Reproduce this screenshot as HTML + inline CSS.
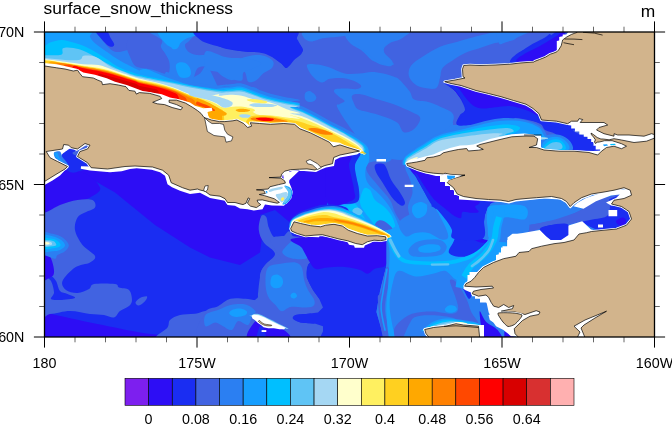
<!DOCTYPE html>
<html><head><meta charset="utf-8"><title>surface_snow_thickness</title>
<style>
html,body{margin:0;padding:0;background:#fff;}
body{width:672px;height:425px;overflow:hidden;}
svg{display:block;will-change:transform;}
text{font-family:"Liberation Sans",sans-serif;fill:#000;}
</style></head><body>
<svg width="672" height="425" viewBox="0 0 672 425">
<rect width="672" height="425" fill="#fff"/>
<defs><clipPath id="pc"><rect x="44.5" y="32" width="610" height="305"/></clipPath></defs>
<g clip-path="url(#pc)">
<rect x="44.5" y="32" width="610" height="305" fill="#4163E1"/>
<path d="M82.5 28C91.5 28 90.4 25.9 93.8 28C97.1 30.1 99 36.5 102.5 40.5C106 44.5 110 50.3 115 51.8C120 53.2 128.3 48.6 132.5 49.2C136.7 49.9 137.9 52.8 140 55.5C142.1 58.2 143.1 62.9 145 65.5C146.9 68.1 147.9 69.5 151.2 71C154.6 72.5 161 73.3 165 74.2C169 75.2 170.8 76.1 175 76.8C179.2 77.4 185.8 78.5 190 78C194.2 77.5 197 75.6 200 73.5C203 71.4 206.7 59.3 208 65.5C209.3 71.7 236 110.5 208 110.5C180 110.5 68 79.2 40 65.5C12 51.8 32.9 34.2 40 28C47.1 21.8 73.5 28 82.5 28Z" fill="#2B7FF2" />
<path d="M140 31.7C143.3 30.9 146.4 30.9 150 32.3C153.6 33.7 159.9 37.6 161.7 40C163.5 42.4 160.3 44.4 160.8 46.7C161.4 48.9 163.6 50.8 165 53.3C166.4 55.8 168.5 58.6 169.2 61.7C169.9 64.7 169.9 69.7 169.2 71.7C168.5 73.7 167.1 73.7 165 73.7C162.9 73.7 159.2 72.4 156.7 71.7C154.2 70.9 152.2 69.7 150 69.2C147.8 68.6 145.8 68.9 143.3 68.3C140.8 67.8 137.2 67.8 135 65.8C132.8 63.9 131.4 59.9 130 56.7C128.6 53.5 126.7 50 126.7 46.7C126.7 43.3 127.8 39.2 130 36.7C132.2 34.2 136.7 32.4 140 31.7Z" fill="#4163E1" />
<path d="M150 30C155.6 28.3 188.3 28.3 195 30C201.7 31.7 191.7 37.5 190 40C188.3 42.5 185.3 43.1 185 45C184.7 46.9 186.4 50 188.3 51.7C190.3 53.3 193.1 54.4 196.7 55C200.3 55.6 205.6 54.3 210 55C214.4 55.7 219.2 58.2 223.3 59.2C227.5 60.1 231.7 61.1 235 60.8C238.3 60.6 239.7 58.5 243.3 57.5C246.9 56.5 252.8 55.1 256.7 55C260.6 54.9 263.9 55.6 266.7 56.7C269.4 57.8 272.5 59.7 273.3 61.7C274.2 63.6 273.3 66.4 271.7 68.3C270 70.3 265.8 71.4 263.3 73.3C260.8 75.3 259.2 78.6 256.7 80C254.2 81.4 250.4 83.1 248.3 81.7C246.2 80.3 246.7 71.9 244.2 71.7C241.7 71.4 236.8 79.2 233.3 80C229.9 80.8 226.4 78.3 223.3 76.7C220.3 75 217.8 71.7 215 70C212.2 68.3 209.6 66.9 206.7 66.7C203.8 66.4 199.7 65.8 197.5 68.3C195.3 70.8 193.5 78.6 193.3 81.7C193.2 84.7 194.4 85.3 196.7 86.7C198.9 88.1 202.8 89.3 206.7 90C210.6 90.7 216.1 91.1 220 90.8C223.9 90.6 226.7 89 230 88.3C233.3 87.6 235.6 86.7 240 86.7C244.4 86.7 253.9 86.1 256.7 88.3C259.4 90.6 276.1 101.4 256.7 100C237.2 98.6 159.4 84.7 140 80C120.6 75.3 138.3 73.5 140 71.7C141.7 69.9 145.8 68.8 150 69.2C154.2 69.5 161.8 73.2 165 73.7C168.2 74.1 168.5 73.7 169.2 71.7C169.9 69.7 169.9 64.7 169.2 61.7C168.5 58.6 166.4 55.8 165 53.3C163.6 50.8 161.4 48.9 160.8 46.7C160.3 44.4 163.5 42.8 161.7 40C159.9 37.2 144.4 31.7 150 30Z" fill="#2B7FF2" />
<path d="M165.8 33.3C166.8 32.7 170.8 32.4 173.3 33C175.8 33.6 179.7 34.9 180.8 36.7C181.9 38.4 180.6 41.4 180 43.3C179.4 45.3 178.6 47.4 177.5 48.3C176.4 49.3 174.4 49.6 173.3 49.2C172.2 48.8 171.1 47.4 170.8 45.8C170.6 44.3 172.2 41.5 171.7 40C171.1 38.5 168.5 37.8 167.5 36.7C166.5 35.6 164.9 33.9 165.8 33.3Z" fill="#169EFF" />
<path d="M175.8 65.8C176.1 64 177.5 62.9 179.2 62.5C180.8 62.1 184 62.4 185.8 63.3C187.6 64.3 189.2 66.5 190 68.3C190.8 70.1 191.2 72.6 190.8 74.2C190.4 75.7 189.2 76.9 187.5 77.5C185.8 78.1 182.5 78.2 180.8 77.5C179.2 76.8 178.3 75.3 177.5 73.3C176.7 71.4 175.6 67.6 175.8 65.8Z" fill="#169EFF" />
<path d="M160 28C167.2 25.5 200 25.9 208 28C216 30.1 209.3 39.2 208 40.5C206.7 41.8 203.4 35.9 200 35.5C196.6 35.1 190.8 36.7 187.5 38C184.2 39.3 182.1 41.8 180 43.5C177.9 45.2 177.5 48.1 175 48C172.5 47.9 167.5 46.3 165 43C162.5 39.7 152.8 30.5 160 28Z" fill="#169EFF" />
<path d="M95 30C95.7 28.5 103.2 28.6 105.8 30C108.5 31.4 109.4 36 110.8 38.3C112.2 40.7 113.9 42.8 114.2 44.2C114.4 45.6 113.5 46.4 112.5 46.7C111.5 46.9 110.1 47.1 108.3 45.8C106.5 44.6 103.9 41.8 101.7 39.2C99.4 36.5 94.3 31.5 95 30Z" fill="#1A2DF2" />
<path d="M203 28C217.6 26.8 274.9 25.9 290.5 28C306.1 30.1 294.7 36.8 296.8 40.5C298.8 44.2 303.6 47.5 303 50.5C302.4 53.5 295.7 55.6 293 58.5C290.3 61.4 288.8 67.2 286.8 68C284.7 68.8 284 65.5 280.5 63C277 60.5 271.3 54.9 265.5 53C259.7 51.1 252.6 52.6 245.5 51.8C238.4 50.9 229.2 49.9 223 48C216.8 46.1 211.3 42.6 208 40.5C204.7 38.4 203.8 37.6 203 35.5C202.2 33.4 188.4 29.2 203 28Z" fill="#1A2DF2" />
<path d="M304.2 32C310.9 30.1 336 28.7 348 28C360 27.3 371.3 22.6 376 28C380.7 33.4 378.2 56.5 376 60.5C373.8 64.5 366.6 54.7 363 51.8C359.4 48.8 357 45.7 354.2 43C351.5 40.3 350.3 37 346.8 35.5C343.2 34 338.2 33.4 333 34.2C327.8 35.1 319.7 39.7 315.5 40.5C311.3 41.3 309.9 40.7 308 39.2C306.1 37.8 297.6 33.9 304.2 32Z" fill="#2B7FF2" />
<path d="M305 93.5C305.6 92.1 307.7 90.9 309.2 91C310.8 91.1 313.2 92.9 314.2 94.2C315.3 95.6 316.1 98 315.5 99.2C314.9 100.5 312.2 101.8 310.5 101.8C308.8 101.8 306.4 100.6 305.5 99.2C304.6 97.9 304.4 94.9 305 93.5Z" fill="#2B7FF2" />
<path d="M353 96.8C353.8 94.5 359.2 93.7 363 93.5C366.8 93.3 373.8 92.2 376 95.5C378.2 98.8 377.3 110.3 376 113C374.7 115.7 371 112.8 368 111.8C365 110.7 360.5 109.2 358 106.8C355.5 104.2 352.2 99 353 96.8Z" fill="#4163E1" />
<path d="M345 28C355.4 26.8 397.9 26.3 407.5 28C417.1 29.7 405.4 35.5 402.5 38C399.6 40.5 393.1 41.1 390 43C386.9 44.9 384.2 46.8 383.8 49.2C383.3 51.8 385.8 55.5 387.5 58C389.2 60.5 394.2 63 393.8 64.2C393.3 65.5 388.1 65.9 385 65.5C381.9 65.1 377.9 63.8 375 61.8C372.1 59.7 370.4 55.3 367.5 53C364.6 50.7 360.4 49.7 357.5 48C354.6 46.3 352.1 45.1 350 43C347.9 40.9 345.8 38 345 35.5C344.2 33 334.6 29.2 345 28Z" fill="#2B7FF2" />
<path d="M515 28C509.2 27.4 489.6 33.2 480 35.5C470.4 37.8 464.2 39.9 457.5 41.8C450.8 43.6 445.8 44.2 440 46.8C434.2 49.2 427.3 53.6 422.5 56.8C417.7 59.9 413.5 62.4 411.2 65.5C409 68.6 408.1 72.4 408.8 75.5C409.4 78.6 412.3 82.2 415 84.2C417.7 86.3 421.5 87.4 425 88C428.5 88.6 433.8 89.7 436.2 88C438.8 86.3 439 81.3 440 78C441 74.7 440.4 70.9 442.5 68C444.6 65.1 448.8 63 452.5 60.5C456.2 58 460.4 55.1 465 53C469.6 50.9 475 49.7 480 48C485 46.3 489.2 44.5 495 43C500.8 41.5 511.7 41.8 515 39.2C518.3 36.8 520.8 28.6 515 28Z" fill="#2B7FF2" />
<path d="M446.2 82.5C442.5 82.9 454.6 89.6 457.5 93C460.4 96.4 462.5 100.1 463.8 103C465 105.9 466.2 107.2 465 110.5C463.8 113.8 456.2 120.3 456.2 123C456.2 125.7 461 126.5 465 126.8C469 127 475 125.3 480 124.2C485 123.2 489.2 121.5 495 120.5C500.8 119.5 511.7 121.3 515 118C518.3 114.7 520.8 105.1 515 100.5C509.2 95.9 491.5 93.5 480 90.5C468.5 87.5 450 82.1 446.2 82.5Z" fill="#1A2DF2" />
<path d="M447.5 83.5C448.8 83.1 459.6 88.3 465 90.5C470.4 92.7 471.7 94.5 480 96.8C488.3 99 509.2 102.4 515 104.2C520.8 106.1 518.3 107.3 515 108C511.7 108.7 500.8 108.5 495 108.5C489.2 108.5 484.2 108.9 480 108C475.8 107.1 473.8 105.5 470 103C466.2 100.5 461.2 96.2 457.5 93C453.8 89.8 446.2 83.9 447.5 83.5Z" fill="#2D0DF5" />
<path d="M551 35.5C549.8 31.5 548.2 35.9 544 38C539.8 40.1 531.1 44.5 526 48C520.9 51.5 513.9 56.7 513.5 59.2C513.1 61.8 517.2 63.1 523.5 63.5C529.8 63.9 546.4 66.4 551 61.8C555.6 57.1 552.2 39.5 551 35.5Z" fill="#1A2DF2" />
<path d="M551 41.8C549.8 38.8 547.3 41.5 544 43C540.7 44.5 535.5 47.6 531 50.5C526.5 53.4 516.4 58.5 517.2 60.5C518.1 62.5 530.4 62.5 536 62.5C541.6 62.5 548.5 64 551 60.5C553.5 57 552.2 44.7 551 41.8Z" fill="#2D0DF5" />
<path d="M499 28C504.8 25.5 530.7 26.5 534 28C537.3 29.5 524 34.2 519 36.8C514 39.2 507.3 42 504 43C500.7 44 499.8 45.5 499 43C498.2 40.5 493.2 30.5 499 28Z" fill="#2B7FF2" />
<path d="M425 105C427.5 100.4 435.8 108.3 440 110C444.2 111.7 447.9 112.1 450 115C452.1 117.9 454.2 124.4 452.5 127.5C450.8 130.6 444.6 132.1 440 133.8C435.4 135.4 427.5 142.3 425 137.5C422.5 132.7 422.5 109.6 425 105Z" fill="#2B7FF2" />
<path d="M455 87.5C457.7 86.5 469.6 91.5 477.5 93.8C485.4 96 494.2 98.8 502.5 101.2C510.8 103.8 521 106.2 527.5 108.8C534 111.2 537.9 114.2 541.2 116.2C544.6 118.3 542.7 120 547.5 121.2C552.3 122.5 565.6 122.1 570 123.8C574.4 125.4 570.4 128.8 573.8 131.2C577.1 133.8 585.6 135.6 590 138.8C594.4 141.9 602.5 147.9 600 150C597.5 152.1 580.8 152.3 575 151.2C569.2 150.2 568.3 146.7 565 143.8C561.7 140.8 558.3 136 555 133.8C551.7 131.5 547.5 131.7 545 130C542.5 128.3 543.8 125.8 540 123.8C536.2 121.7 528.3 119 522.5 117.5C516.7 116 510.4 115.2 505 115C499.6 114.8 495.8 115.4 490 116.2C484.2 117.1 475.4 119 470 120C464.6 121 459.2 123.3 457.5 122.5C455.8 121.7 458.8 117.1 460 115C461.2 112.9 464.8 112.5 465 110C465.2 107.5 462.9 103.8 461.2 100C459.6 96.2 452.3 88.5 455 87.5Z" fill="#1A2DF2" />
<path d="M455 87.5C457.9 86.9 469.6 91.5 477.5 93.8C485.4 96 494.2 98.8 502.5 101.2C510.8 103.8 521 106.2 527.5 108.8C534 111.2 537.9 114 541.2 116.2C544.6 118.5 547.7 121.5 547.5 122C547.3 122.5 542.9 120.9 540 119.5C537.1 118.1 534.2 115.5 530 113.8C525.8 112 521.7 109.8 515 109C508.3 108.2 497.5 109 490 108.8C482.5 108.5 475 109.4 470 107.5C465 105.6 462.5 100.8 460 97.5C457.5 94.2 452.1 88.1 455 87.5Z" fill="#2D0DF5" />
<path d="M541.2 140C542.1 137.4 544.4 135.8 547.5 135C550.6 134.2 556.2 134 560 135C563.8 136 567.9 138.8 570 141.2C572.1 143.8 574.2 148.3 572.5 150C570.8 151.7 565 151.2 560 151.2C555 151.3 545.6 152.4 542.5 150.5C539.4 148.6 540.4 142.6 541.2 140Z" fill="#2B7FF2" />
<path d="M542.5 143.8C543.5 141.7 547.1 138.5 550 137.5C552.9 136.5 557.1 136.6 560 137.5C562.9 138.4 566 141 567.5 143C569 145 570.4 148.2 568.8 149.5C567.1 150.8 561.7 150.4 557.5 150.5C553.3 150.6 546.2 151.1 543.8 150C541.2 148.9 541.5 145.8 542.5 143.8Z" fill="#169EFF" />
<path d="M543.8 146.2C544.8 144.7 548.5 141 551.2 140C554 139 557.7 139.2 560 140C562.3 140.8 564.2 143.4 565 145C565.8 146.6 566.7 148.7 565 149.5C563.3 150.3 558.3 150 555 150C551.7 150 546.9 150.1 545 149.5C543.1 148.9 542.7 147.8 543.8 146.2Z" fill="#00BFFF" />
<path d="M545 148C545.4 146.8 550.1 143.4 552.5 142.5C554.9 141.6 557.8 141.8 559.5 142.5C561.2 143.2 562.4 145.3 562.5 146.5C562.6 147.7 562.1 148.9 560 149.5C557.9 150.1 552.5 150.2 550 150C547.5 149.8 544.6 149.2 545 148Z" fill="#5FC4F5" />
<path d="M35 170 L200 160 L300 151 L340 152.5 L358.5 151.5 L352 158 L351 175 L353 196 L360 215 L390 230 L390 275 L360 272.5 L340 267.5 L322.5 275 L320 300 L310 315 L320 336 L320 350 L35 350Z" fill="#1A2DF2" />
<path d="M35 180 L80 172.5 L115 192.5 L155 225 L190 247.5 L210 257.5 L240 265 L260 252.5 L263.5 225 L260 215 L275 210 L290 222.5 L300 212.5 L320 205 L340 204 L349 197.5 L346 180 L351 160 L358.5 151.5 L340 152.5 L300 151 L200 160 L35 170Z" fill="#2D0DF5" />
<path d="M35 180C42.5 171.2 69.2 171.2 80 172.5C90.8 173.8 98.3 183.3 100 187.5C101.7 191.7 95 194.6 90 197.5C85 200.4 75.8 202.5 70 205C64.2 207.5 60.8 209.2 55 212.5C49.2 215.8 38.3 230.4 35 225C31.7 219.6 27.5 188.8 35 180Z" fill="#2D0DF5" />
<path d="M35 311C36.7 304.8 35.8 310.6 45 312.5C54.2 314.4 74.2 319.2 90 322.5C105.8 325.8 127.5 330.1 140 332.5C152.5 334.9 160.8 334.1 165 337C169.2 339.9 186.7 347.8 165 350C143.3 352.2 56.7 356.5 35 350C13.3 343.5 33.3 317.2 35 311Z" fill="#2D0DF5" />
<path d="M310 250C310.4 246.2 315 245.4 320 245C325 244.6 333.3 246.7 340 247.5C346.7 248.3 351.7 250 360 250C368.3 250 385 243.8 390 247.5C395 251.2 395 268.8 390 272.5C385 276.2 368.3 271.1 360 270C351.7 268.9 345.4 265.6 340 266C334.6 266.4 331.2 272.2 327.5 272.5C323.8 272.8 320.4 271.2 317.5 267.5C314.6 263.8 309.6 253.8 310 250Z" fill="#2D0DF5" />
<path d="M35 210C36.7 193.2 40.8 213.3 45 212.5C49.2 211.7 54.6 207.1 60 205C65.4 202.9 72.1 200.8 77.5 200C82.9 199.2 89.6 198.8 92.5 200C95.4 201.2 96.2 205.4 95 207.5C93.8 209.6 87.9 210.8 85 212.5C82.1 214.2 79.2 214.6 77.5 217.5C75.8 220.4 74.2 225.4 75 230C75.8 234.6 79.2 240.7 82.5 245C85.8 249.3 93.8 253.1 95 256C96.2 258.9 93.3 260.6 90 262.5C86.7 264.4 79.6 264.4 75 267.5C70.4 270.6 64 277.2 62.5 281C61 284.8 63.5 288 66 290C68.5 292 73.7 293.2 77.5 293C81.3 292.8 86.2 290.5 89 289C91.8 287.5 89.7 284.8 94 284C98.3 283.2 110.8 283.4 115 284C119.2 284.6 116.7 286.5 119 287.5C121.3 288.5 126.8 287.9 129 290C131.2 292.1 132 297.3 132 300C132 302.7 131 304.2 129 306C127 307.8 122.5 309.1 120 311C117.5 312.9 116.7 316.8 114 317.5C111.3 318.2 108 315.6 104 315C100 314.4 95.7 314.7 90 314C84.3 313.3 76.7 311 70 311C63.3 311 55.8 313.7 50 314C44.2 314.3 37.5 330.3 35 313C32.5 295.7 33.3 226.8 35 210Z" fill="#4163E1" />
<path d="M45 276C45.2 277 49.5 278.2 51 281C52.5 283.8 54 289.5 54 292.5C54 295.5 50 297.8 51 299C52 300.2 56 300.2 60 300C64 299.8 73.8 299 75 298C76.2 297 70 295.2 67.5 294C65 292.8 61.9 293.2 60 291C58.1 288.8 57.7 283.7 56 281C54.3 278.3 51.8 275.8 50 275C48.2 274.2 44.8 275 45 276Z" fill="#1A2DF2" />
<path d="M35 245C36.8 239.8 43.2 247.3 46 250C48.8 252.7 50.7 257.2 52 261C53.3 264.8 54.3 269.8 54 272.5C53.7 275.2 53.2 276.1 50 277.5C46.8 278.9 37.5 286.4 35 281C32.5 275.6 33.2 250.2 35 245Z" fill="#2D0DF5" />
<path d="M135.5 302.5C135.7 301.2 138.1 299 140 298C141.9 297 146.2 296 147 296.5C147.8 297 146.4 299.8 145 301.2C143.6 302.8 140.3 305.3 138.8 305.5C137.2 305.7 135.3 303.8 135.5 302.5Z" fill="#4163E1" />
<path d="M157.5 340C149.6 337.9 165.4 330.8 167.5 327.5C169.6 324.2 167.9 322.1 170 320C172.1 317.9 175.8 316 180 315C184.2 314 189.2 314.4 195 313.8C200.8 313.1 211.7 306.9 215 311.2C218.3 315.6 224.6 335.2 215 340C205.4 344.8 165.4 342.1 157.5 340Z" fill="#4163E1" />
<path d="M37.5 232.5C40 228.9 48.3 232.9 52.5 233.8C56.7 234.6 59.8 235.6 62.5 237.5C65.2 239.4 68.3 242.7 68.8 245C69.2 247.3 66.9 249.6 65 251.2C63.1 252.9 59.2 253.8 57.5 255C55.8 256.2 57.1 258.7 55 258.8C52.9 258.8 47.9 256 45 255.5C42.1 255 38.8 259.3 37.5 255.5C36.2 251.7 35 236.1 37.5 232.5Z" fill="#2B7FF2" />
<path d="M37.5 235C40 232.5 48.5 235.4 52.5 236.2C56.5 237.1 59.2 238.5 61.2 240C63.3 241.5 65.2 243.8 65 245.5C64.8 247.2 62.1 249 60 250C57.9 251 56.2 251 52.5 251.2C48.8 251.5 40 254 37.5 251.2C35 248.5 35 237.5 37.5 235Z" fill="#169EFF" />
<path d="M37.5 238C40 236.4 49 238.1 52.5 238.8C56 239.4 57.4 240.9 58.8 242C60.1 243.1 61.1 244.5 60.5 245.5C59.9 246.5 58.8 247.5 55 248C51.2 248.5 40.4 250.2 37.5 248.5C34.6 246.8 35 239.6 37.5 238Z" fill="#00BFFF" />
<path d="M37.5 240C39.8 239 48.2 240 51.2 240.5C54.2 241 55 242.1 55.5 243C56 243.9 57.5 245.4 54.5 246C51.5 246.6 40.3 247.8 37.5 246.8C34.7 245.8 35.2 241 37.5 240Z" fill="#5FC4F5" />
<path d="M37.5 241.2C39.5 240.6 47.1 241.1 49.5 241.5C51.9 241.9 51.9 242.9 52 243.5C52.1 244.1 52.4 244.9 50 245.2C47.6 245.6 39.6 246.2 37.5 245.5C35.4 244.8 35.5 241.9 37.5 241.2Z" fill="#A5D7F3" />
<path d="M37.5 242.2C39.2 241.9 45.5 242 47.5 242.2C49.5 242.5 49.5 243.1 49.5 243.5C49.5 243.9 49.5 244.3 47.5 244.5C45.5 244.7 39.2 244.9 37.5 244.5C35.8 244.1 35.8 242.6 37.5 242.2Z" fill="#FFFFCC" />
<path d="M355 125 L505 125 L505 260 L355 260Z" fill="#2B7FF2" />
<path d="M390 125C396.7 121.2 424.6 122.5 430 125C435.4 127.5 425.4 136.7 422.5 140C419.6 143.3 415.4 142.5 412.5 145C409.6 147.5 406.2 151.2 405 155C403.8 158.8 404.2 163.3 405 167.5C405.8 171.7 408.8 175.8 410 180C411.2 184.2 412.8 187.9 412.5 192.5C412.2 197.1 408 202.5 408 207.5C408 212.5 410.7 217.9 412.5 222.5C414.3 227.1 417.1 230.4 418.8 235C420.4 239.6 424 247.5 422.5 250C421 252.5 412.5 252.5 410 250C407.5 247.5 408.8 239.2 407.5 235C406.2 230.8 404.6 228.8 402.5 225C400.4 221.2 397.1 216.7 395 212.5C392.9 208.3 392.9 204.6 390 200C387.1 195.4 381.2 189.6 377.5 185C373.8 180.4 369.2 175.9 367.5 172.5C365.8 169.1 365.8 166.4 367 164.5C368.2 162.6 371.8 161.6 375 161.2C378.2 160.9 383.3 163.1 386.2 162.5C389.2 161.9 391.9 160 392.5 157.5C393.1 155 390.4 152.9 390 147.5C389.6 142.1 383.3 128.8 390 125Z" fill="#4163E1" />
<path d="M437.5 225C439.6 224.7 443.8 226.9 447.5 228.8C451.2 230.6 456.2 233.5 460 236.2C463.8 239 469.2 242.7 470 245C470.8 247.3 467.5 250.6 465 250C462.5 249.4 458.8 243.7 455 241.2C451.2 238.8 445.8 237.3 442.5 235.5C439.2 233.7 435.8 232.2 435 230.5C434.2 228.8 435.4 225.3 437.5 225Z" fill="#4163E1" />
<path d="M375 165C376 163.5 380.6 163.3 382.5 163.8C384.4 164.2 384.8 164.8 386.2 167.5C387.7 170.2 389 175.8 391.2 180C393.5 184.2 397.7 188.8 400 192.5C402.3 196.2 404.8 200.3 405 202.5C405.2 204.7 403.3 206.2 401.2 205.5C399.2 204.8 395.6 201.8 392.5 198C389.4 194.2 385.2 186.8 382.5 182.5C379.8 178.2 377.5 175.4 376.2 172.5C375 169.6 374 166.5 375 165Z" fill="#1A2DF2" />
<path d="M360.5 150C362.6 147.1 366 145.8 367.5 147.5C369 149.2 369.6 156.2 369.2 160C368.9 163.8 365.8 166.2 365.5 170C365.2 173.8 365.1 178.3 367.5 182.5C369.9 186.7 376.2 190.8 380 195C383.8 199.2 387.1 202.9 390 207.5C392.9 212.1 395.8 217.9 397.5 222.5C399.2 227.1 399.7 230.4 400.5 235C401.3 239.6 414.7 247.5 402.5 250C390.3 252.5 340 257.8 327.5 250C315 242.2 325 210.7 327.5 203C330 195.3 337.5 204 342.5 203.8C347.5 203.5 354.8 203.5 357.5 201.2C360.2 199 359.2 194 359 190C358.8 186 357.2 181.7 356.5 177.5C355.8 173.3 354.3 169.6 355 165C355.7 160.4 358.4 152.9 360.5 150Z" fill="#169EFF" />
<path d="M363.8 188.8C365.4 186.7 368.1 188.1 370 190C371.9 191.9 372.5 197.1 375 200C377.5 202.9 382.1 204.6 385 207.5C387.9 210.4 390.8 213.8 392.5 217.5C394.2 221.2 395.9 226.2 395.5 230C395.1 233.8 392.6 239.1 390 240C387.4 240.9 382.9 238.4 380 235.5C377.1 232.6 375 226.3 372.5 222.5C370 218.7 367.1 215.8 365 212.5C362.9 209.2 360.2 206.5 360 202.5C359.8 198.5 362.1 190.8 363.8 188.8Z" fill="#00BFFF" />
<path d="M327.5 205.5C330.4 198.1 340.4 205.8 345 205.5C349.6 205.2 352.3 202.8 355 204C357.7 205.2 359.2 209.4 361.2 212.5C363.3 215.6 364.4 217.9 367.5 222.5C370.6 227.1 376.7 235.4 380 240C383.3 244.6 396.2 248.3 387.5 250C378.8 251.7 337.5 257.4 327.5 250C317.5 242.6 324.6 212.9 327.5 205.5Z" fill="#00BFFF" />
<path d="M352.5 210C353 208.8 355.8 207.3 357.5 207.5C359.2 207.7 362.1 210 362.5 211.2C362.9 212.5 361.3 214.5 360 215C358.7 215.5 355.8 215.3 354.5 214.5C353.2 213.7 352 211.2 352.5 210Z" fill="#5FC4F5" />
<path d="M413 205.5C414.2 204 417.7 202.1 420 202C422.3 201.9 426.2 203.5 427 205C427.8 206.5 426.6 209.8 425 211.2C423.4 212.8 419.6 214 417.5 214C415.4 214 413.2 212.7 412.5 211.2C411.8 209.8 411.8 207 413 205.5Z" fill="#169EFF" />
<path d="M335 152.5C340.4 152.3 356.7 149.2 360 151.2C363.3 153.3 355.6 160.6 355 165C354.4 169.4 355.8 173.3 356.5 177.5C357.2 181.7 358.8 186 359 190C359.2 194 360.2 199.4 357.5 201.8C354.8 204.1 347.5 203.8 342.5 204.2C337.5 204.7 330 212.9 327.5 204.2C325 195.6 326.2 161.1 327.5 152.5C328.8 143.9 329.6 152.7 335 152.5Z" fill="#1A2DF2" />
<path d="M335 153.8C339 153.9 348.9 152.6 351.2 154.5C353.6 156.4 349 161.2 349 165C349 168.8 350.7 173.3 351.5 177.5C352.3 181.7 353.8 186.2 354 190C354.2 193.8 357.4 197.9 353 200C348.6 202.1 331.8 210.2 327.5 202.5C323.2 194.8 326.2 161.9 327.5 153.8C328.8 145.6 331 153.6 335 153.8Z" fill="#2D0DF5" />
<path d="M410 166.2C403.3 165 413.3 167.3 415 170C416.7 172.7 417.5 177.1 420 182.5C422.5 187.9 426.7 197.3 430 202.5C433.3 207.7 436.7 210.8 440 213.8C443.3 216.8 446.2 219 450 220.5C453.8 222 459.2 223.8 462.5 223C465.8 222.2 467.1 218 470 215.5C472.9 213 476.7 209.7 480 208C483.3 206.3 485.8 206.2 490 205.5C494.2 204.8 502.5 206.3 505 203.8C507.5 201.2 513.3 194.4 505 190C496.7 185.6 470.8 181.5 455 177.5C439.2 173.5 416.7 167.5 410 166.2Z" fill="#1A2DF2" />
<path d="M412 167C405.5 167 414.3 173.7 416.2 177.5C418.2 181.3 420.6 185.8 423.8 190C426.9 194.2 431 198.8 435 202.5C439 206.2 443.3 209.6 447.5 212.5C451.7 215.4 457.7 220 460 220C462.3 220 458.8 215 461.2 212.5C463.8 210 473.1 207.3 475 205C476.9 202.7 475.8 203.3 472.5 198.8C469.2 194.2 465.1 182.8 455 177.5C444.9 172.2 418.5 167 412 167Z" fill="#2D0DF5" />
<path d="M296.2 235 L390 235 L390 310 L315 310 L307.5 275 L311.2 258.8Z" fill="#1A2DF2" />
<path d="M261.2 216.2C262.5 214.1 265 215.1 266.2 217C267.5 218.9 267.5 224.2 268.8 227.5C270 230.8 271.7 235.1 273.8 237C275.8 238.9 278.8 239.7 281.2 238.8C283.8 237.8 286.7 231.5 288.8 231.2C290.8 231 291.5 234.8 293.8 237.5C296 240.2 299.6 244 302.5 247.5C305.4 251 310.4 255.8 311.2 258.8C312.1 261.7 308.3 262.3 307.5 265C306.7 267.7 305.8 271.7 306.2 275C306.7 278.3 308.5 281.7 310 285C311.5 288.3 312.7 290.8 315 295C317.3 299.2 336.7 307.5 323.8 310C310.8 312.5 251.5 310.8 237.5 310C223.5 309.2 237.1 306.7 240 305C242.9 303.3 251.5 302.5 255 300C258.5 297.5 260.4 294.2 261.2 290C262.1 285.8 259.4 279.2 260 275C260.6 270.8 262.5 268.5 265 265C267.5 261.5 275.2 257.5 275 253.8C274.8 250 266.5 246.5 263.8 242.5C261 238.5 259.2 234.4 258.8 230C258.3 225.6 260 218.4 261.2 216.2Z" fill="#4163E1" />
<path d="M282.5 248.8C283.5 246 290.4 240 293.8 240C297.1 240 300 246 302.5 248.8C305 251.5 309.2 254.6 308.8 256.2C308.3 257.9 303.5 258.8 300 258.8C296.5 258.8 290.4 257.9 287.5 256.2C284.6 254.6 281.5 251.5 282.5 248.8Z" fill="#2B7FF2" />
<path d="M265 267.5C267.7 262.9 272.1 263.1 277.5 262.5C282.9 261.9 293.1 262.1 297.5 263.8C301.9 265.4 302.9 269 303.8 272.5C304.6 276 301.9 280.8 302.5 285C303.1 289.2 305.6 293.3 307.5 297.5C309.4 301.7 320.8 307.9 313.8 310C306.7 312.1 273.8 313.3 265 310C256.2 306.7 261.2 297.1 261.2 290C261.2 282.9 262.3 272.1 265 267.5Z" fill="#2B7FF2" />
<path d="M270 280.5C270.2 278.9 270.8 276.6 272 275.5C273.2 274.4 275.4 273.5 277 273.8C278.6 274 280.6 275.5 281.5 277C282.4 278.5 282.8 280.8 282.5 282.5C282.2 284.2 280.8 286.2 279.5 287C278.2 287.8 275.9 287.8 274.5 287.5C273.1 287.2 271.8 286.2 271 285C270.2 283.8 269.8 282.1 270 280.5Z" fill="#169EFF" />
<path d="M290 296C290.1 295.1 291.1 293.7 292 293.2C292.9 292.8 294.7 293 295.5 293.5C296.3 294 297.2 295.6 297 296.5C296.8 297.4 295.5 298.7 294.5 299C293.5 299.3 292 299 291.2 298.5C290.5 298 289.9 296.9 290 296Z" fill="#169EFF" />
<path d="M296.2 235C283.4 239.6 306.9 256.7 310 262.5C313.1 268.3 312.1 269.2 315 270C317.9 270.8 322.5 268 327.5 267.5C332.5 267 339.6 266.6 345 267C350.4 267.4 356.2 268.9 360 270C363.8 271.1 365 274 367.5 273.8C370 273.5 371.9 270.2 375 268.8C378.1 267.3 384.1 268.1 386.2 265C388.4 261.9 387.9 255 388 250C388.1 245 402.3 237.5 387 235C371.7 232.5 309.1 230.4 296.2 235Z" fill="#2D0DF5" />
<path d="M387.5 237.5C392.2 231.7 410.4 217.9 415 230C419.6 242.1 421.7 296.7 415 310C408.3 323.3 381.2 312.5 375 310C368.8 307.5 376.7 299.6 378 295C379.3 290.4 381.6 287.5 383 282.5C384.4 277.5 385.8 272.5 386.5 265C387.2 257.5 382.8 243.3 387.5 237.5Z" fill="#2B7FF2" />
<path d="M389 237.5C393.5 232.1 410.7 226.2 415 232.5C419.3 238.8 416.7 267.9 415 275C413.3 282.1 408.1 273.8 405 275C401.9 276.2 398.3 279.2 396.2 282.5C394.2 285.8 393.5 290.4 392.5 295C391.5 299.6 392.1 307.5 390 310C387.9 312.5 380.8 314.6 380 310C379.2 305.4 383.7 290 385 282.5C386.3 275 387.3 272.5 388 265C388.7 257.5 384.5 242.9 389 237.5Z" fill="#169EFF" />
<path d="M390 240C391.3 237.1 395.6 243.8 397.5 247.5C399.4 251.2 401.5 257.9 401.2 262.5C401 267.1 397.9 270.8 396.2 275C394.6 279.2 392.6 281.7 391.2 287.5C389.9 293.3 389.2 306.2 388 310C386.8 313.8 383.8 314.6 383.8 310C383.7 305.4 386.5 290 387.5 282.5C388.5 275 389.1 272.1 389.5 265C389.9 257.9 388.7 242.9 390 240Z" fill="#00BFFF" />
<path d="M390 237.5C391 237.7 394.9 242.3 396.2 245C397.6 247.7 398.4 252.7 398 253.8C397.6 254.8 395 252.9 393.8 251.2C392.5 249.6 391.1 246 390.5 243.8C389.9 241.5 389 237.3 390 237.5Z" fill="#5FC4F5" />
<path d="M271.8 237.5C267.2 239.6 274 246.5 275.5 250C277 253.5 281.8 256.5 280.5 258.8C279.2 261 271.1 261.9 268 263.8C264.9 265.6 263.2 266.9 261.8 270C260.3 273.1 259.9 278.5 259.2 282.5C258.6 286.5 258.4 290.8 258 293.8C257.6 296.7 258.8 299.2 256.8 300C254.7 300.8 249.9 299 245.5 298.8C241.1 298.5 235.1 297.5 230.5 298.8C225.9 300 222.2 304 218 306.2C213.8 308.5 207.6 306.9 205.5 312.5C203.4 318.1 186.5 335.4 205.5 340C224.5 344.6 299.7 341.5 319.2 340C338.8 338.5 322.4 333.5 323 331.2C323.6 329 324.2 327.5 323 326.2C321.8 325 319.2 324.4 315.5 323.8C311.8 323.1 304.2 323.3 300.5 322.5C296.8 321.7 293.8 320 293 318.8C292.2 317.5 293 315.8 295.5 315C298 314.2 304.2 314.2 308 313.8C311.8 313.3 315.5 313.5 318 312.5C320.5 311.5 322.8 309.8 323 307.5C323.2 305.2 320.9 301.7 319.2 298.8C317.6 295.8 315.1 293.5 313 290C310.9 286.5 307.6 281.7 306.8 277.5C305.9 273.3 306.5 268.3 308 265C309.5 261.7 315.1 260 315.5 257.5C315.9 255 312.6 253.3 310.5 250C308.4 246.7 309.5 239.6 303 237.5C296.5 235.4 276.3 235.4 271.8 237.5Z" fill="#4163E1" />
<path d="M283 250C284.7 247.5 291.3 240.8 294.2 240C297.2 239.2 297.8 242.5 300.5 245C303.2 247.5 309.7 252.7 310.5 255C311.3 257.3 308.4 258.1 305.5 258.8C302.6 259.4 296.5 259.4 293 258.8C289.5 258.1 285.9 256.5 284.2 255C282.6 253.5 281.3 252.5 283 250Z" fill="#2B7FF2" />
<path d="M268 267.5C270.5 264.4 275.9 264.6 280.5 263.8C285.1 262.9 292 261.9 295.5 262.5C299 263.1 300.3 264.6 301.8 267.5C303.2 270.4 303.2 276.2 304.2 280C305.3 283.8 306.3 286.7 308 290C309.7 293.3 313.4 297.3 314.2 300C315.1 302.7 314.9 305 313 306.2C311.1 307.5 306.8 307.4 303 307.5C299.2 307.6 294 306.4 290.5 307C287 307.6 284.2 311.6 281.8 311.2C279.2 310.9 277.8 307.5 275.5 305C273.2 302.5 269.7 300 268 296.2C266.3 292.5 265.5 287.3 265.5 282.5C265.5 277.7 265.5 270.6 268 267.5Z" fill="#2B7FF2" />
<path d="M205.5 315C207.6 312.3 213.8 311.7 218 310C222.2 308.3 225.9 305.9 230.5 305C235.1 304.1 241.3 303.5 245.5 304.5C249.7 305.5 254.3 309.5 255.5 311.2C256.7 313 253.8 312.7 252.5 315C251.2 317.3 250.4 324 248 325C245.6 326 240.7 320.4 238 321.2C235.3 322.1 234.2 329.2 231.8 330C229.2 330.8 225.7 327.5 223 326.2C220.3 325 218.4 322.5 215.5 322.5C212.6 322.5 207.2 327.5 205.5 326.2C203.8 325 203.4 317.7 205.5 315Z" fill="#2B7FF2" />
<path d="M270.5 281.2C270.7 279.7 271 277.4 272 276.2C273 275.1 275.1 274.3 276.8 274.5C278.4 274.7 280.7 276.1 281.8 277.5C282.8 278.9 283.3 281.3 283 283C282.7 284.7 281.5 286.7 280 287.5C278.5 288.3 275.8 288.3 274.2 288C272.8 287.7 271.6 286.6 271 285.5C270.4 284.4 270.3 282.8 270.5 281.2Z" fill="#169EFF" />
<path d="M290.5 295.5C290.6 294.7 291.7 293.4 292.5 293C293.3 292.6 294.8 292.8 295.5 293.2C296.2 293.8 297.1 295.2 297 296C296.9 296.8 295.9 297.9 295 298.2C294.1 298.6 292.5 298.5 291.8 298C291 297.5 290.4 296.3 290.5 295.5Z" fill="#169EFF" />
<path d="M229.2 313C229.3 311.9 231.1 310.2 233 309.5C234.9 308.8 238.2 308.2 240.5 308.5C242.8 308.8 245.9 310.2 246.8 311.2C247.6 312.3 246.8 314.1 245.5 315C244.2 315.9 241.4 316.5 239.2 316.8C237.1 317 234.2 316.9 232.5 316.2C230.8 315.6 229.2 314.1 229.2 313Z" fill="#169EFF" />
<path d="M254.2 322.5C256.5 319.8 257 322.6 261.8 323.8C266.5 324.9 278.5 326.8 283 329.5C287.5 332.2 294.2 338.2 288.5 340C282.8 341.8 254.2 342.9 248.5 340C242.8 337.1 252 325.2 254.2 322.5Z" fill="#2D0DF5" />
<path d="M256.8 340C255.6 337.9 258.4 329.8 259.2 327.5C260.1 325.2 260.9 325.8 261.8 326.2C262.6 326.7 263.5 327.7 264.2 330C265 332.3 267.2 338.3 266 340C264.8 341.7 257.9 342.1 256.8 340Z" fill="#1A2DF2" />
<path d="M381 229.5 L551 229.5 L551 342 L381 342Z" fill="#2B7FF2" />
<path d="M373.5 229.5C376.8 210.8 390.6 225.8 393.5 229.5C396.4 233.2 392.2 244.9 391 252C389.8 259.1 387.5 265.3 386 272C384.5 278.7 382.2 286.2 382.2 292C382.2 297.8 384.1 303.2 386 307C387.9 310.8 390.6 312 393.5 314.5C396.4 317 400.2 319.3 403.5 322C406.8 324.7 409.8 329.1 413.5 330.8C417.2 332.4 423.5 330.1 426 332C428.5 333.9 437.2 340.3 428.5 342C419.8 343.7 382.7 360.8 373.5 342C364.3 323.2 370.2 248.2 373.5 229.5Z" fill="#4163E1" />
<path d="M373.5 239.5C375 229.5 380.6 239.1 382.2 242C383.9 244.9 383.6 251.2 383.5 257C383.4 262.8 382.2 270.3 381.5 277C380.8 283.7 380.3 292.8 379 297C377.7 301.2 374.4 311.6 373.5 302C372.6 292.4 372 249.5 373.5 239.5Z" fill="#1A2DF2" />
<path d="M373.5 242C374.5 233.6 378.6 240.7 379.8 244C380.9 247.3 380.8 254 380.5 262C380.2 270 379.2 286.6 378 292C376.8 297.4 374.2 302.8 373.5 294.5C372.8 286.2 372.5 250.4 373.5 242Z" fill="#2D0DF5" />
<path d="M389.8 229.5C409.8 226.6 489.1 226.6 508.5 229.5C527.9 232.4 508.5 241.6 506 247C503.5 252.4 498.5 258.2 493.5 262C488.5 265.8 479.8 267.8 476 269.5C472.2 271.2 473.1 269.9 471 272C468.9 274.1 465 278.7 463.5 282C462 285.3 463.5 291.4 462.2 292C461 292.6 458.3 287.4 456 285.8C453.7 284.1 450.6 281.6 448.5 282C446.4 282.4 447.2 287.8 443.5 288.2C439.8 288.7 430.6 285.8 426 284.5C421.4 283.2 416.8 282.2 416 280.8C415.2 279.3 421.8 277 421 275.8C420.2 274.5 415.2 273 411 273.2C406.8 273.5 399.3 273 396 277C392.7 281 392.5 292 391 297C389.5 302 388.5 307.4 387.2 307C386 306.6 383.7 300.3 383.5 294.5C383.3 288.7 385.2 279.9 386 272C386.8 264.1 387.9 254.1 388.5 247C389.1 239.9 369.8 232.4 389.8 229.5Z" fill="#169EFF" />
<path d="M411 239.5C413.1 237.4 416 235.5 421 234.5C426 233.5 436 232.8 441 233.2C446 233.7 449.8 234.3 451 237C452.2 239.7 446.8 246.4 448.5 249.5C450.2 252.6 460.6 254.3 461 255.8C461.4 257.2 456 258 451 258.2C446 258.5 437.2 257.4 431 257C424.8 256.6 417.2 257.4 413.5 255.8C409.8 254.1 408.9 249.7 408.5 247C408.1 244.3 408.9 241.6 411 239.5Z" fill="#2B7FF2" />
<path d="M421 244.5C421.4 243.1 425.2 241.9 428.5 241.5C431.8 241.1 438.1 241.3 441 242C443.9 242.7 446.4 244.4 446 245.8C445.6 247.1 441.8 249.3 438.5 250C435.2 250.7 428.9 250.9 426 250C423.1 249.1 420.6 245.9 421 244.5Z" fill="#169EFF" />
<path d="M411 254C414.1 253.8 424.3 255.2 431 255.8C437.7 256.2 446 257.1 451 257C456 256.9 458.5 255 461 255C463.5 255 467.7 256.2 466 257C464.3 257.8 457.7 259.7 451 260C444.3 260.3 432.5 259.5 426 259C419.5 258.5 414.8 257.8 412.2 257C409.8 256.2 407.9 254.2 411 254Z" fill="#4163E1" />
<path d="M448.5 249.5C448.1 246.7 456 242.8 458.5 239.5C461 236.2 457.7 231.2 463.5 229.5C469.3 227.8 489.5 227.4 493.5 229.5C497.5 231.6 490.2 238.2 487.2 242C484.3 245.8 480.4 250.1 476 252.5C471.6 254.9 465.6 256.8 461 256.2C456.4 255.8 448.9 252.3 448.5 249.5Z" fill="#1A2DF2" />
<path d="M453.5 247C453.7 244.5 460 241.2 462.2 238.2C464.5 235.3 462.9 231 467.2 229.5C471.6 228 485.8 227.6 488.5 229.5C491.2 231.4 486 237.3 483.5 240.8C481 244.2 477.2 247.9 473.5 250C469.8 252.1 464.3 253.8 461 253.2C457.7 252.8 453.3 249.5 453.5 247Z" fill="#2D0DF5" />
<path d="M393.5 234.5C393.6 236.6 393.2 242.4 394 247C394.8 251.6 394.8 259.2 398 262C401.2 264.8 406.8 263.7 413.5 264C420.2 264.3 430.2 264.2 438.5 264C446.8 263.8 456.4 263.8 463.5 262.5C470.6 261.2 476.1 259.2 481 256.5C485.9 253.8 490.2 249.8 493 246.5C495.8 243.2 497 239.8 498 237C499 234.2 498.8 230.8 499 229.5" fill="none" stroke="#00BFFF" stroke-width="4.2" stroke-linecap="round" stroke-linejoin="round"/>
<path d="M394.8 235.8C395 237.6 395.3 242.8 396 247C396.7 251.2 398.5 258.5 399 260.8" fill="none" stroke="#5FC4F5" stroke-width="2.2" stroke-linecap="round" stroke-linejoin="round"/>
<path d="M437.2 264.8 L453.5 264.5" fill="none" stroke="#5FC4F5" stroke-width="2.4" stroke-linecap="round" stroke-linejoin="round"/>
<path d="M387.2 274.5C387 277 385.3 284.5 385.5 289.5C385.7 294.5 388 302 388.5 304.5" fill="none" stroke="#00BFFF" stroke-width="2.5" stroke-linecap="round" stroke-linejoin="round"/>
<path d="M446 308.8C446 307.8 447.2 306.5 448.5 306C449.8 305.5 452.2 305.5 453.5 306C454.8 306.5 456.4 307.8 456.5 308.8C456.6 309.8 455.3 311.5 454 312C452.7 312.5 449.8 312.5 448.5 312C447.2 311.5 446 309.8 446 308.8Z" fill="#169EFF" />
<path d="M468.5 295.8C468.8 293.6 471.9 292.1 474 294C476.1 295.9 479 303.2 481 307C483 310.8 483.9 313.7 486 317C488.1 320.3 490.6 322.8 493.5 327C496.4 331.2 505.2 339.5 503.5 342C501.8 344.5 488.1 345.8 483.5 342C478.9 338.2 477.9 325.3 476 319.5C474.1 313.7 473.5 311 472.2 307C471 303 468.2 297.9 468.5 295.8Z" fill="#4163E1" />
<path d="M468.5 292.8C467.7 290.4 473.1 290 476 290.8C478.9 291.5 483.8 294.3 486 297C488.2 299.7 489.8 305.7 489 307C488.2 308.3 484.4 307.4 481 305C477.6 302.6 469.3 295.1 468.5 292.8Z" fill="#1A2DF2" />
<path d="M486 317C486.1 314.4 490.2 324 493.5 326.5C496.8 329 501.8 329.4 506 332C510.2 334.6 520.7 340.3 518.5 342C516.3 343.7 498.4 346.2 493 342C487.6 337.8 485.9 319.6 486 317Z" fill="#2D0DF5" />
<path d="M471 190 L636 185 L636 240 L561 245 L471 255Z" fill="#2B7FF2" />
<path d="M476 202.5C480.2 191.5 494.3 203.8 501 203.8C507.7 203.8 512.2 202.3 516 202.5C519.8 202.7 521.8 203.8 523.5 205C525.2 206.2 527.2 208.8 526 210C524.8 211.2 519.8 212.1 516 212.5C512.2 212.9 506.4 211.7 503.5 212.5C500.6 213.3 498.9 215.4 498.5 217.5C498.1 219.6 498.1 223.5 501 225C503.9 226.5 514.3 224.8 516 226.2C517.7 227.7 513.5 231 511 233.8C508.5 236.5 503.5 239.4 501 242.5C498.5 245.6 498.5 249.2 496 252.5C493.5 255.8 489.3 259.6 486 262.5C482.7 265.4 477.7 280 476 270C474.3 260 471.8 213.5 476 202.5Z" fill="#169EFF" />
<path d="M476 215C477.7 207.5 483.1 216.2 486 217.5C488.9 218.8 491.6 220.4 493.5 222.5C495.4 224.6 496.4 227.5 497.2 230C498.1 232.5 499.1 234.6 498.5 237.5C497.9 240.4 495.6 244.2 493.5 247.5C491.4 250.8 488.9 255 486 257.5C483.1 260 477.7 269.6 476 262.5C474.3 255.4 474.3 222.5 476 215Z" fill="#00BFFF" />
<path d="M518.5 227.5C521.8 225.8 528.9 225.2 536 223.8C543.1 222.3 553.5 221 561 218.8C568.5 216.5 575.2 212.9 581 210C586.8 207.1 591 203.5 596 201.2C601 199 607 197.4 611 196.2C615 195.1 618.9 194.1 619.8 194.5C620.6 194.9 618.7 197.4 616 198.8C613.3 200.1 607.2 201 603.5 202.5C599.8 204 597 205.2 593.5 208C590 210.8 586.4 216.8 582.2 219.5C578.1 222.2 573.7 223.6 568.5 224.5C563.3 225.4 555.8 224.3 551 225C546.2 225.7 544.3 227.4 539.8 228.8C535.2 230.1 527.5 232.2 523.5 233C519.5 233.8 516.8 234.7 516 233.8C515.2 232.8 515.2 229.2 518.5 227.5Z" fill="#4163E1" />
<path d="M586.5 216.5C589.4 214.1 595.2 209.3 599 206.5C602.8 203.7 605.2 201.5 609 199.5C612.8 197.5 617.8 195.7 621.5 194.5C625.2 193.3 629 191.3 631 192.5C633 193.7 634.7 199.5 633.5 201.5C632.3 203.5 625.9 203.6 624 204.5C622.1 205.4 621.2 205.8 622 207C622.8 208.2 627.4 210 629 212C630.6 214 631.8 216.8 631.5 219C631.2 221.2 629.8 223.8 627.2 225.5C624.8 227.2 620.4 228.6 616.5 229.5C612.6 230.4 608 231.2 604 231C600 230.8 596.5 229.7 592.8 228C589 226.3 582.5 222.7 581.5 220.8C580.5 218.8 583.6 218.9 586.5 216.5Z" fill="#1A2DF2" />
<path d="M616 221.2C616.4 219.9 620.6 217.7 622.2 217.5C623.9 217.3 625.6 218.8 626 220C626.4 221.2 625.8 223.6 624.8 224.5C623.7 225.4 621.2 226 619.8 225.5C618.3 225 615.6 222.6 616 221.2Z" fill="#2D0DF5" />
<path d="M539.8 228.8C540.6 227 546.4 225.7 551 225C555.6 224.3 564.2 223 567.2 224.5C570.2 226 570 231.3 569 233.8C568 236.2 563.8 238.1 561 239.2C558.2 240.4 554.8 241.1 552.2 240.5C549.8 239.9 548.1 237.5 546 235.5C543.9 233.5 538.9 230.5 539.8 228.8Z" fill="#1A2DF2" />
<path d="M435 195C442.1 187.9 469 192.1 477.5 195C486 197.9 484.5 207.1 486.2 212.5C488 217.9 488.6 223.3 488 227.5C487.4 231.7 485.1 234.2 482.5 237.5C479.9 240.8 476.2 244.8 472.5 247.5C468.8 250.2 463.8 252.8 460 253.8C456.2 254.7 452.7 254.5 450 253C447.3 251.5 446.2 247.6 443.8 245C441.2 242.4 436.5 245.8 435 237.5C433.5 229.2 427.9 202.1 435 195Z" fill="#1A2DF2" />
<path d="M460 195C462.5 191.7 476.5 192.5 480 195C483.5 197.5 482.1 206.2 481.2 210C480.4 213.8 477.7 216.7 475 217.5C472.3 218.3 467.5 218.8 465 215C462.5 211.2 457.5 198.3 460 195Z" fill="#2D0DF5" />
<path d="M435 210C436.7 206.2 442.3 212.1 445 215C447.7 217.9 450.4 223.3 451.2 227.5C452.1 231.7 451.5 237.5 450 240C448.5 242.5 445 242.9 442.5 242.5C440 242.1 436.2 242.9 435 237.5C433.8 232.1 433.3 213.8 435 210Z" fill="#4163E1" />
<path d="M435 222.5C436.2 220.8 440.6 223.3 442.5 225C444.4 226.7 446.2 230.4 446.2 232.5C446.2 234.6 444.4 237.1 442.5 237.5C440.6 237.9 436.2 237.5 435 235C433.8 232.5 433.8 224.2 435 222.5Z" fill="#2B7FF2" />
<path d="M482.5 202.5C484.8 200.8 495.8 204.4 502.5 205C509.2 205.6 518.5 205.4 522.5 206.2C526.5 207.1 527.5 208.8 526.2 210C525 211.2 519 212.9 515 213.8C511 214.6 505 213.1 502.5 215C500 216.9 499.7 221.9 500 225C500.3 228.1 503.6 231 504.5 233.8C505.4 236.5 506.5 238.1 505.5 241.2C504.5 244.4 501.3 249 498.8 252.5C496.2 256 493.1 259.5 490 262.5C486.9 265.5 483.1 268 480 270.5C476.9 273 473.8 274.9 471.2 277.5C468.8 280.1 466.7 284.8 465 286.2C463.3 287.7 462.1 288.1 461.2 286.2C460.4 284.4 462.7 277.3 460 275C457.3 272.7 449.2 273.3 445 272.5C440.8 271.7 436.7 272.7 435 270C433.3 267.3 432.5 258.4 435 256.2C437.5 254.1 445.4 257 450 257C454.6 257 458.3 257.4 462.5 256.2C466.7 255.1 471.2 252.7 475 250C478.8 247.3 482.5 243.8 485 240C487.5 236.2 489.4 231.7 490 227.5C490.6 223.3 490 219.2 488.8 215C487.5 210.8 480.2 204.2 482.5 202.5Z" fill="#169EFF" />
<path d="M435 263.8C437.5 264 444.6 265 450 265.5C455.4 266 464.6 266.8 467.5 267" fill="none" stroke="#00BFFF" stroke-width="3" stroke-linecap="round" stroke-linejoin="round"/>
<path d="M515 228C519.2 226.2 532.5 224.7 540 223C547.5 221.3 553.3 220.1 560 218C566.7 215.9 574.2 213.5 580 210.5C585.8 207.5 590.3 202.2 595 200C599.7 197.8 605.8 195 608 197.5C610.2 200 611 211.2 608 215C605 218.8 596.3 218.5 590 220C583.7 221.5 576.7 222.9 570 223.8C563.3 224.6 555 224.2 550 225C545 225.8 544.6 227.3 540 228.8C535.4 230.2 526.7 232.9 522.5 233.8C518.3 234.6 516.2 234.7 515 233.8C513.8 232.8 510.8 229.8 515 228Z" fill="#4163E1" />
<path d="M540 229.2C540 226.8 545.3 226 550 225.2C554.7 224.5 564.8 222.4 568 224.5C571.2 226.6 569.8 235.4 569.2 238C568.8 240.6 568.2 239.7 565 240C561.8 240.3 554.2 241.8 550 240C545.8 238.2 540 231.7 540 229.2Z" fill="#1A2DF2" />
<path d="M43.3 149 L63.3 148.2 L63.3 144 L91.7 142.3 L91.7 152.3 L70 152.3 L56.7 160.7 L66.7 167.3 L43.3 167.3Z" fill="#fff" />
<path d="M65 167.3C63.8 165.9 61.3 163.4 61.3 162.3C61.3 161.2 65 161.8 65 160.7C65 159.6 61.1 157.3 61.3 155.7C61.6 154 64.9 151.9 66.7 150.7C68.4 149.4 70.1 148.2 71.7 148.2C73.2 148.2 75.4 149.7 75.8 150.7C76.2 151.6 73.7 152.9 74.2 154C74.6 155.1 77.1 156.2 78.7 157.3C80.2 158.4 81.9 159.6 83.7 160.7C85.5 161.8 88.4 162.8 89.5 164C90.6 165.2 91.9 166.5 90.3 167.7C88.8 168.8 82.8 170.2 80 171C77.2 171.8 75.3 172.7 73.3 172.7C71.4 172.7 69.7 171.9 68.3 171C66.9 170.1 66.2 168.8 65 167.3Z" fill="#1A2DF2" />
<path d="M72.5 152.7C72.9 151.8 76.3 151.1 78.3 150C80.4 148.9 83.3 146.8 85 146C86.7 145.2 88 144.6 88.3 145C88.7 145.4 88.1 147.4 87 148.3C85.9 149.2 83.5 149.4 81.7 150.5C79.8 151.6 77.4 154.6 75.8 155C74.3 155.4 72.1 153.5 72.5 152.7Z" fill="#4163E1" />
<path d="M54.2 152.3C55 151.3 58.6 150.7 60 151.5C61.4 152.3 61.4 155.5 62.5 157.3C63.6 159.1 65.6 160.8 66.7 162.3C67.7 163.9 68.9 166.2 68.7 166.8C68.4 167.4 66.4 167 65 166C63.6 165 61.7 162.4 60 161C58.3 159.6 56 159.1 55 157.7C54 156.2 53.3 153.4 54.2 152.3Z" fill="#2B7FF2" />
<path d="M54.2 153.3C54.4 152.6 56.7 152.2 57.5 152.8C58.3 153.5 58.2 155.8 59.2 157.3C60.1 158.9 63.2 161.8 63.3 162.3C63.5 162.9 61.2 161.5 60 160.7C58.8 159.8 56.8 158.6 55.8 157.3C54.9 156.1 53.9 154.1 54.2 153.3Z" fill="#169EFF" />
<path d="M296 238 L303 240 L310.5 250 L315.5 257.5 L308 265 L306.7 277.5 L313 290 L319.2 298.7 L323 307.5 L318 312.5 L308 313.7 L295.5 315 L293 318.7 L300.5 322.5 L315.5 323.7 L323 326.2 L323 331.2 L318 342 L386 342 L382 332 L376.5 312 L379.7 292 L386.3 266 L389.6 238Z" fill="#1A2DF2" />
<path d="M296 238C281.6 239.7 299.7 243.9 302 248C304.3 252.1 307.7 259 310 262.5C312.3 266 313.1 268.2 316 269C318.9 269.8 322.7 267.8 327.5 267.5C332.3 267.2 339.6 266.6 345 267C350.4 267.4 356.2 268.9 360 270C363.8 271.1 365 273.9 367.5 273.7C370 273.5 371.9 270.1 375 268.7C378.1 267.2 383.8 268.1 386 265C388.2 261.9 387.6 254.5 388 250C388.4 245.5 403.8 240 388.5 238C373.2 236 310.4 236.3 296 238Z" fill="#2D0DF5" />
<path d="M386.3 236.2 L504.3 196.7 L504.3 345 L386.3 345 L382.4 331.8 L376.4 312 L379.7 292.3 L386.3 265.9Z" fill="#2B7FF2" />
<path d="M377.8 298.8C377.6 292.3 379.6 297.5 381.1 292.3C382.5 287 384.7 270.3 386.3 267.5C387.9 264.8 390.6 271.1 390.6 275.8C390.6 280.5 387.3 289.5 386.3 295.6C385.4 301.6 384.3 306 385 312C385.7 318.1 388.9 326.3 390.6 331.8C392.4 337.3 396.3 342.8 395.6 345C394.8 347.2 388.6 347.2 386.3 345C384 342.8 383.1 339.5 381.7 331.8C380.3 324.1 377.9 305.4 377.8 298.8Z" fill="#4163E1" />
<path d="M388.3 232.9C391.5 227.5 400.4 223.6 408.7 219.8C417.1 215.9 430.7 207.1 438.4 209.9C446.1 212.6 452.9 229.1 454.9 236.2C456.8 243.4 448.3 249.3 449.9 252.7C451.6 256.1 459 257.1 464.7 256.7C470.5 256.2 477.9 253.5 484.5 250.1C491.1 246.7 501 234.7 504.3 236.2C507.6 237.8 507.6 254.4 504.3 259.3C501 264.3 490 263.2 484.5 265.9C479 268.6 474.6 273 471.3 275.8C468 278.5 467.5 281.8 464.7 282.4C462 282.9 458.2 281 454.9 279.1C451.6 277.2 448.8 271.7 445 270.8C441.1 270 436.7 273.2 431.8 274.1C426.9 275.1 420.8 277 415.3 276.4C409.8 275.9 402.6 269.9 398.8 270.8C395.1 271.8 394.5 276.6 392.9 282.4C391.4 288.1 389.5 297.2 389.6 305.4C389.8 313.7 392.4 325.2 393.9 331.8C395.4 338.4 399.4 342.8 398.8 345C398.3 347.2 392.7 350.5 390.6 345C388.5 339.5 386.7 322.5 386.3 312C385.9 301.6 387.8 292.3 388.3 282.4C388.9 272.5 389.6 261 389.6 252.7C389.6 244.5 385.1 238.4 388.3 232.9Z" fill="#169EFF" />
<path d="M408.7 249.4C409.8 247 413.7 242.8 418.6 241.2C423.6 239.5 433.7 238.7 438.4 239.5C443.1 240.4 446.1 243.7 446.6 246.1C447.2 248.6 445.2 252.6 441.7 254.4C438.1 256.1 430.1 256.4 425.2 256.7C420.3 256.9 414.8 257.2 412 256C409.3 254.8 407.6 251.9 408.7 249.4Z" fill="#2B7FF2" />
<path d="M418.6 247.8C419.7 246.5 423.6 244.9 426.9 244.5C430.1 244 436.2 244.2 438.4 245.1C440.6 246.1 441.4 248.8 440 250.1C438.7 251.3 433.4 252.4 430.1 252.7C426.9 253 422.2 252.9 420.3 252.1C418.3 251.2 417.5 249 418.6 247.8Z" fill="#169EFF" />
<path d="M398.8 223.1C399.9 219.2 406.5 215.9 412 213.2C417.5 210.4 426.9 205.5 431.8 206.6C436.7 207.7 438.9 214.8 441.7 219.8C444.4 224.7 448.3 232.9 448.3 236.2C448.3 239.5 445 240.1 441.7 239.5C438.4 239 432.9 234 428.5 232.9C424.1 231.9 419.2 232.4 415.3 232.9C411.5 233.5 408.2 237.9 405.4 236.2C402.7 234.6 397.7 226.9 398.8 223.1Z" fill="#2B7FF2" />
<path d="M412 209.9C412.6 207.3 417.8 203.2 420.3 202.6C422.7 202.1 426 204.6 426.9 206.6C427.7 208.6 426.9 212.9 425.2 214.8C423.6 216.7 419.2 218.9 417 218.1C414.8 217.3 411.5 212.5 412 209.9Z" fill="#169EFF" />
<path d="M435.1 205.9C436.2 209.2 441.7 211.4 445 216.5C448.3 221.5 454.2 230.2 454.9 236.2C455.5 242.3 447.3 249.3 448.9 252.7C450.6 256.1 458.8 257.1 464.7 256.7C470.7 256.2 478.7 252.9 484.5 250.1C490.3 247.2 496 244.6 499.3 239.5C502.6 234.5 503.5 226.9 504.3 219.8C505.1 212.6 515.3 200.5 504.3 196.7C493.3 192.9 449.9 195.2 438.4 196.7C426.9 198.2 434 202.6 435.1 205.9Z" fill="#1A2DF2" />
<path d="M454.9 209.9C456 215.9 459.8 227.5 464.7 232.9C469.7 238.4 478.7 242.8 484.5 242.8C490.3 242.8 496 240.6 499.3 232.9C502.6 225.3 511.1 202.7 504.3 196.7C497.4 190.7 466.4 194.5 458.2 196.7C449.9 198.9 453.8 203.8 454.9 209.9Z" fill="#2D0DF5" />
<path d="M389.6 239.5C390.6 241.7 392.9 249.1 395.6 252.7C398.2 256.3 399.4 259.5 405.4 261.3C411.5 263 423.6 263.2 431.8 263.3C440 263.3 447.7 263 454.9 261.6C462 260.2 469.1 257.7 474.6 254.7C480.1 251.7 484 247.6 487.8 243.5C491.7 239.4 496 232.5 497.7 230.3" fill="none" stroke="#00BFFF" stroke-width="3.8" stroke-linecap="round" stroke-linejoin="round"/>
<path d="M390.3 240.2C391 241.7 393.5 246.8 394.9 249.4C396.3 252.1 398.2 254.9 398.8 256" fill="none" stroke="#5FC4F5" stroke-width="3.2" stroke-linecap="round" stroke-linejoin="round"/>
<path d="M431.8 264.6 L448.3 264.3" fill="none" stroke="#5FC4F5" stroke-width="2.2" stroke-linecap="round" stroke-linejoin="round"/>
<path d="M387 269.2C386.3 273 384 285.7 383 292.3C382 298.8 380.7 302.4 381.1 308.7C381.4 315 384.3 326.6 385 330.1" fill="none" stroke="#169EFF" stroke-width="1.6" stroke-linecap="round" stroke-linejoin="round"/>
<path d="M445 308.7C445.4 307.6 447.3 305.9 448.9 305.4C450.6 305 453.5 305.3 454.9 306.1C456.2 306.9 457.3 309 456.8 310C456.4 311.1 453.9 312.4 452.2 312.7C450.5 313 447.8 312.7 446.6 312C445.4 311.4 444.6 309.8 445 308.7Z" fill="#169EFF" />
<path d="M449.9 280.7C450.2 278.5 453.8 279.4 456.5 282.4C459.3 285.4 463.9 293.9 466.4 298.8C468.9 303.8 469.1 307.6 471.3 312C473.5 316.4 477.4 319.7 479.6 325.2C481.8 330.7 487 341.7 484.5 345C482 348.3 468.5 347.7 464.7 345C461 342.2 463.8 332.9 462.1 328.5C460.5 324.1 459.9 320.8 454.9 318.6C449.8 316.4 438.4 315.6 431.8 315.3C425.2 315 419.2 315.3 415.3 317C411.5 318.6 411.5 320.5 408.7 325.2C406 329.9 401.3 343.9 398.8 345C396.4 346.1 393.9 335.5 393.9 331.8C393.9 328.1 395.8 325.6 398.8 322.6C401.9 319.5 406.5 315.5 412 313.7C417.5 311.8 425.1 311.4 431.8 311.4C438.5 311.4 447.8 314.1 452.2 313.7C456.6 313.2 457.7 311.8 458.2 308.7C458.6 305.7 456.2 300.2 454.9 295.6C453.5 290.9 449.6 282.9 449.9 280.7Z" fill="#4163E1" />
<path d="M461.4 277.4C462.5 277.4 464.7 279.6 466.4 282.4C468 285.1 471 291.2 471.3 293.9C471.7 296.7 469.9 299.4 468.7 298.8C467.5 298.3 465.6 293.4 464.1 290.6C462.6 287.9 460.2 284.6 459.8 282.4C459.4 280.2 460.4 277.4 461.4 277.4Z" fill="#1A2DF2" />
<path d="M479.6 312C479.6 308.2 483.1 318.9 486.2 321.9C489.2 324.9 494.7 326.3 497.7 330.1C500.7 334 506.2 342.5 504.3 345C502.4 347.4 490.3 350.5 486.2 345C482 339.5 479.6 315.9 479.6 312Z" fill="#2D0DF5" />
<path d="M490.3 203.8C492.7 202.1 494.4 202.1 500.2 201.5C506 200.9 521 194 525.2 200.3C529.4 206.5 532.3 232.3 525.2 238.7C518.1 245.1 489.5 241.7 482.6 238.7C475.8 235.7 483.5 225.3 484.1 220.8C484.6 216.4 484.8 214.7 485.9 211.9C486.9 209 488 205.6 490.3 203.8Z" fill="#2B7FF2" />
<path d="M489.4 206.9C491.7 204.9 494.2 205.6 500.2 205.6C506.1 205.6 521 204.6 525.2 206.9C529.4 209.1 528.2 217.3 525.2 219C522.2 220.8 511.5 217.1 507.3 217.2C503.2 217.4 502 218.1 500.2 219.9C498.4 221.7 496.6 224.8 496.6 228C496.6 231.1 501.4 236.9 500.2 238.7C499 240.5 491.5 240.5 489.4 238.7C487.4 236.9 488.1 231.6 487.7 228C487.2 224.4 486.5 220.8 486.8 217.2C487.1 213.7 487.2 208.8 489.4 206.9Z" fill="#169EFF" />
<path d="M493 222.6C493.8 219.6 496.4 219.9 497.5 220.8C498.6 221.7 499.6 225 499.6 228C499.7 231 499.1 236.9 498 238.7C496.9 240.5 493.9 241.4 493 238.7C492.2 236 492.3 225.6 493 222.6Z" fill="#00BFFF" />
<path d="M410.7 166.8C417.3 166.5 440.5 165.9 453.7 170.7C466.8 175.6 483.3 190.3 489.4 195.8C495.6 201.3 490.9 201.1 490.3 203.8C489.7 206.5 486.9 209 485.9 211.9C484.8 214.7 484.6 216.4 484.1 220.8C483.5 225.3 487.7 235.7 482.6 238.7C477.6 241.7 458.8 240.2 453.7 238.7C448.5 237.2 453.1 232.7 451.9 229.8C450.7 226.8 448.6 223.8 446.5 220.8C444.4 217.8 442 215.2 439.4 211.9C436.7 208.6 433.1 204.7 430.4 201.1C427.7 197.6 425.3 194 423.3 190.4C421.2 186.8 419.4 182.7 417.9 179.7C416.4 176.7 415.5 174.7 414.3 172.5C413.1 170.4 404.2 167.1 410.7 166.8Z" fill="#1A2DF2" />
<path d="M413.4 168.9C419.5 168.3 442.8 165.7 453.7 170.7C464.5 175.8 475.1 193.4 478.7 199.4C482.3 205.3 475.1 204.4 475.1 206.5C475.1 208.6 479.3 210.8 478.7 211.9C478.1 212.9 474.2 212.8 471.6 212.8C468.9 212.8 464.4 211 462.6 211.9C460.8 212.8 462.3 217.5 460.8 218.1C459.3 218.7 456.4 217.1 453.7 215.5C451 213.8 447.7 210.7 444.7 208.3C441.7 205.9 438.5 203.8 435.8 201.1C433.1 198.5 431 195.5 428.6 192.2C426.2 188.9 423.4 184.4 421.5 181.5C419.5 178.5 418.3 176.4 417 174.3C415.7 172.2 407.3 169.5 413.4 168.9Z" fill="#2D0DF5" />
<path d="M200.5 28C215.2 26 272.7 26.4 288.6 28C304.6 29.6 293.8 33.5 296.1 37.4C298.4 41.2 302.8 47.5 302.5 51.2C302.2 55 296.9 57.2 294.2 59.9C291.6 62.6 289.2 67.1 286.7 67.4C284.2 67.7 283 64.1 279.2 61.7C275.5 59.4 269.9 55.2 264.2 53.5C258.6 51.7 252.4 52.2 245.5 51.2C238.6 50.2 230.5 49.4 223 47.5C215.5 45.6 204.3 43.2 200.5 40C196.8 36.7 185.8 30 200.5 28Z" fill="#1A2DF2" />
<path d="M206.1 51.2C209.6 49.4 219.6 56 226.7 57.2C233.9 58.5 243.5 57.7 249.2 58.7C255 59.8 260.6 62 261.2 63.6C261.9 65.2 255.9 67.1 253 68.5C250.1 69.9 245.5 70.2 243.6 72.2C241.7 74.2 243.9 79.4 241.7 80.5C239.6 81.6 234.2 80 230.5 78.6C226.7 77.2 223.3 73.9 219.2 72.2C215.2 70.6 208.3 72 206.1 68.5C203.9 65 202.7 53.1 206.1 51.2Z" fill="#2B7FF2" />
<path d="M303.6 28C306.4 26.4 313.2 26.9 320.5 28C327.8 29.1 347.5 33 347.5 34.7C347.5 36.5 326.5 37.4 320.5 38.5C314.4 39.6 313.9 41.7 311.1 41.5C308.3 41.3 304.9 39.6 303.6 37.4C302.4 35.1 300.8 29.6 303.6 28Z" fill="#2B7FF2" />
<path d="M347.5 34.7C350.3 32.6 359 29.1 369.2 28C379.4 26.9 405.4 25.5 408.6 28C411.8 30.5 393 39.2 388.7 43C384.4 46.7 382.1 47.4 382.7 50.5C383.4 53.6 391.6 59.1 392.5 61.7C393.4 64.4 391.2 66.9 388 66.2C384.7 65.6 377.4 60.9 373 58C368.6 55.1 365.2 51.4 361.7 48.6C358.3 45.8 354.7 43.4 352.4 41.1C350 38.8 344.7 36.9 347.5 34.7Z" fill="#2B7FF2" />
<path d="M304.7 97.4C304.7 96 306 93.9 307.4 93.2C308.7 92.6 311.5 92.5 313 93.2C314.5 94 316.4 96.4 316.4 97.7C316.4 99.1 314.5 100.9 313 101.5C311.5 102.1 308.7 102.2 307.4 101.5C306 100.8 304.7 98.7 304.7 97.4Z" fill="#2B7FF2" />
<path d="M307.4 64.5C308.9 63.4 314.2 64 317.9 64.5C321.6 65 325.4 66 329.8 67.5C334.2 69 339.7 72.5 344.6 73.5C349.6 74.5 355 73.8 359.5 73.5C364 73.2 367.4 72 371.4 72C375.4 72 379.3 72.6 383.3 73.5C387.3 74.4 392.4 76.1 395.2 77.2C398 78.3 397.6 77.9 400 80.2C402.4 82.5 407.2 88 409.6 91.2C412 94.4 411.1 97.8 414.2 99.6C417.3 101.4 423.9 100.8 428.3 102C432.7 103.2 437 105.2 440.8 106.9C444.6 108.6 449.1 110 451.2 112C453.3 114 454.2 116 453.7 118.7C453.2 121.4 450.9 125.1 448 128C445.1 130.9 440.7 132.3 436 136C431.3 139.7 426 146 420 150C414 154 408.3 160 400 160C391.7 160 378 155 370 150C362 145 357.4 137.1 352 130C346.6 122.9 339.4 111.8 337.4 107.5C335.4 103.2 338.8 105.1 340 104C341.2 102.9 344.8 102.2 344.6 101C344.4 99.8 340.4 98 338.7 96.5C337 95 334.7 93.3 334.2 92.1C333.7 90.9 334 89.7 335.7 89.1C337.4 88.5 341.1 88.4 344.6 88.4C348.1 88.4 353.8 89.3 356.5 89.1C359.2 88.8 360.5 87.8 361 86.9C361.5 86 361 85 359.5 83.9C358 82.8 355 81.2 352 80.2C349 79.2 345.4 78.2 341.7 78C338 77.8 333 78 329.8 78.7C326.6 79.4 324.8 82.4 322.3 82.4C319.8 82.4 317.2 80.6 315 78.7C312.8 76.8 310.3 73.6 309 71.2C307.7 68.8 305.9 65.6 307.4 64.5Z" fill="#2B7FF2" />
<path d="M352.3 95.4C353.7 94.2 357.4 93.7 361.7 94.4C366 95.1 372.8 97.9 378.3 99.6C383.9 101.3 389.4 102.7 395 104.8C400.6 106.9 407.5 110 411.7 112.1C415.9 114.2 419 115.2 420 117.3C421 119.4 419.3 122.3 417.9 124.6C416.5 126.8 414.1 129.6 411.7 130.8C409.3 132 405.7 133.3 403.3 131.9C400.9 130.5 400.6 125.1 397.1 122.5C393.6 119.9 387.4 117.9 382.5 116.2C377.6 114.5 372.1 113.3 367.9 112.1C363.7 110.9 359.9 110.7 357.5 109C355.1 107.3 354.2 104 353.3 101.7C352.4 99.4 350.9 96.6 352.3 95.4Z" fill="#4163E1" />
<path d="M510 61.8C509.4 60.1 512.9 56.8 516.2 54.2C519.6 51.8 525.2 49.2 530 46.8C534.8 44.2 540.5 41.8 545 39.2C549.5 36.7 553.7 33 557 31.5C560.3 30 563.9 28.6 565 30.5C566.1 32.4 564.8 39.4 563.8 43C562.8 46.6 563.8 49 559 52C554.2 55 541.5 59 535 61C528.5 63 524.2 63.9 520 64C515.8 64.1 510.6 63.4 510 61.8Z" fill="#1A2DF2" />
<path d="M516.2 61C515.4 59.5 521 56 525 53.5C529 51 534.8 48.9 540 46C545.2 43.1 552.5 38.4 556.5 36C560.5 33.6 562.5 30.3 563.8 31.5C565 32.7 564.5 39.6 563.8 43C563 46.4 561.3 50.1 559 52C556.7 53.9 554 53.1 550 54.5C546 55.9 538.3 59.2 535 60.5C531.7 61.8 533.1 62.4 530 62.5C526.9 62.6 517.1 62.5 516.2 61Z" fill="#2D0DF5" />
<path d="M446.2 83C439.6 82.6 452.2 87.4 455 90.5C457.8 93.6 461.2 98.3 463 101.8C464.8 105.2 466.5 107.2 465.5 111C464.5 114.8 456.2 121.9 457 124.2C457.8 126.6 465.3 125.5 470 125C474.7 124.5 479.6 122.3 485 121C490.4 119.7 496.7 117.7 502.5 117.2C508.3 116.8 514.2 117.7 520 118.5C525.8 119.3 532.1 120.9 537.5 122.2C542.9 123.6 546.2 125.4 552.5 126.8C558.8 128.1 571.2 131.1 575 130.5C578.8 129.9 580.8 125.9 575 123C569.2 120.1 553.3 118 540 113C526.7 108 510.6 98 495 93C479.4 88 452.9 83.4 446.2 83Z" fill="#1A2DF2" />
<path d="M447 83.5C444.9 83.6 454.3 85 457.5 87.5C460.7 90 463.5 95.4 466.2 98.5C469 101.6 471 104.3 473.8 106C476.5 107.7 479 108.3 482.5 108.5C486 108.7 490.4 107.7 495 107.2C499.6 106.8 505 105.6 510 106C515 106.4 520.4 108.2 525 109.8C529.6 111.3 534.2 113.6 537.5 115.5C540.8 117.4 544.6 121.2 545 121C545.4 120.8 544.2 117.2 540 114.2C535.8 111.2 527.5 106.5 520 103C512.5 99.5 503.3 96.2 495 93.5C486.7 90.8 478 88.4 470 86.8C462 85.1 449.1 83.4 447 83.5Z" fill="#2D0DF5" />
<path d="M488 207C489.7 205.2 495.5 205.4 500 205C504.5 204.6 511 204.3 515 204.5C519 204.7 522.2 205.1 524 206C525.8 206.9 526.7 208.7 526 210C525.3 211.3 522.7 213.5 520 214C517.3 214.5 513 212.7 510 213C507 213.3 505.3 215.5 502 216C498.7 216.5 492.3 217.5 490 216C487.7 214.5 486.3 208.8 488 207Z" fill="#169EFF" />
<path d="M498 208C498.2 209 499.3 211 499 214C498.7 217 496.8 221.7 496 226C495.2 230.3 495.8 235.3 494 240C492.2 244.7 488.8 249.7 485 254C481.2 258.3 474.7 262 471 266C467.3 270 464.7 274.3 463 278C461.3 281.7 461.3 286.3 461 288" fill="none" stroke="#169EFF" stroke-width="11" stroke-linecap="butt" stroke-linejoin="round"/>
<path d="M499 217C498.5 218.8 496.8 224.2 496 228C495.2 231.8 495.8 235.7 494 240C492.2 244.3 488.8 249.7 485 254C481.2 258.3 474.5 262.2 471 266C467.5 269.8 465.2 275.2 464 277" fill="none" stroke="#00BFFF" stroke-width="6" stroke-linecap="butt" stroke-linejoin="round"/>
<path d="M493 240C492.3 241.7 491 246.8 489 250C487 253.2 483.8 256.3 481 259C478.2 261.7 473.5 264.8 472 266" fill="none" stroke="#5FC4F5" stroke-width="2.6" stroke-linecap="round" stroke-linejoin="round"/>
<path d="M165 73.5C166.9 68.9 172.5 76.2 176.7 77.6C180.8 79 185 80.7 190 81.8C195 82.9 201.1 83.5 206.7 84.3C212.2 85.1 217.8 86.2 223.3 86.8C228.9 87.4 241.1 87.8 240 87.6C238.9 87.5 218.3 86.5 216.7 86C215 85.4 225.8 84.7 230 84.3C234.2 83.9 237.8 82.9 241.7 83.5C245.6 84 249.2 86.1 253.3 87.6C257.5 89.2 261.7 91.1 266.7 92.6C271.7 94.2 277.8 95.5 283.3 96.8C288.9 98 298.9 99.3 300 100.1C301.1 101 289.4 100.7 290 101.8C290.6 102.9 298.9 104.9 303.3 106.8C307.8 108.7 312.2 111.1 316.7 113.5C321.1 115.8 325.6 118.6 330 121C334.4 123.3 338.9 125.3 343.3 127.6C347.8 130 353.1 132.9 356.7 135.1C360.3 137.4 363.1 139.2 365 141C366.9 142.8 368.2 144.3 368.3 146C368.5 147.6 366.2 149.8 365.8 151C365.4 152.1 366.8 152.7 365.8 153C364.9 153.3 371 156.8 360 153C349 149.2 324.7 134.5 300 130C275.3 125.5 227.8 128 212 126C196.2 124 212.8 121.5 205 118C197.2 114.5 171.7 112.3 165 104.9C158.3 97.5 163.1 78 165 73.5Z" fill="#2B7FF2" />
<path d="M35 30C43.9 23.3 79.2 28.9 88.3 30C97.5 31.1 88.9 34.4 90 36.7C91.1 38.9 92.2 40.8 95 43.3C97.8 45.8 103.3 49.3 106.7 51.7C110 54 112.2 55.7 115 57.5C117.8 59.3 119.2 60.3 123.3 62.5C127.5 64.7 137.2 69.6 140 70.8C142.8 72.1 138.9 70.3 140 70C141.1 69.7 144.2 68.8 146.7 69.2C149.2 69.6 151.9 71.2 155 72.5C158.1 73.8 161.4 75.3 165 76.7C168.6 78.1 172.5 79.4 176.7 80.8C180.8 82.2 185 83.9 190 85C195 86.1 201.1 86.7 206.7 87.5C212.2 88.3 217.8 89.4 223.3 90C228.9 90.6 241.1 91 240 90.8C238.9 90.7 218.3 89.7 216.7 89.2C215 88.6 225.8 87.9 230 87.5C234.2 87.1 237.8 86.1 241.7 86.7C245.6 87.2 249.2 89.3 253.3 90.8C257.5 92.4 261.7 94.3 266.7 95.8C271.7 97.4 277.8 98.8 283.3 100C288.9 101.2 298.9 102.5 300 103.3C301.1 104.2 289.4 103.9 290 105C290.6 106.1 298.9 108.1 303.3 110C307.8 111.9 312.2 114.3 316.7 116.7C321.1 119 325.6 121.8 330 124.2C334.4 126.5 338.9 128.5 343.3 130.8C347.8 133.2 353.1 136.1 356.7 138.3C360.3 140.6 363.1 142.4 365 144.2C366.9 146 368.2 147.5 368.3 149.2C368.5 150.8 366.2 153.5 365.8 154.2C365.4 154.8 366.8 153.2 365.8 153C364.9 152.8 371 156.8 360 153C349 149.2 324.7 134.5 300 130C275.3 125.5 227.8 128 212 126C196.2 124 215.3 122.3 205 118C194.7 113.7 167.5 105.7 150 100C132.5 94.3 118.3 89 100 84C81.7 79 50.8 72.3 40 70C29.2 67.7 35.8 76.7 35 70C34.2 63.3 26.1 36.7 35 30Z" fill="#169EFF" />
<path d="M35 48.3C36.7 44.3 42.5 46.8 45 45.8C47.5 44.9 47.2 43.5 50 42.5C52.8 41.5 57.8 40 61.7 40C65.6 40 69.7 41.5 73.3 42.5C76.9 43.5 79.7 44.3 83.3 45.8C86.9 47.4 91.1 49.4 95 51.7C98.9 53.9 103.3 56.9 106.7 59.2C110 61.4 112.2 63.3 115 65C117.8 66.7 119.2 67.5 123.3 69.2C127.5 70.8 137.2 74 140 75C142.8 76 137.2 74.4 140 75C142.8 75.6 151.1 77.2 156.7 78.3C162.2 79.4 167.8 80.5 173.3 81.7C178.9 82.8 184.4 84.2 190 85.3C195.6 86.4 201.1 87.5 206.7 88.3C212.2 89.2 217.8 89.9 223.3 90.5C228.9 91.1 241.1 91.9 240 92C238.9 92.1 218.3 91.3 216.7 90.8C215 90.4 225.8 89.6 230 89.2C234.2 88.8 237.8 87.8 241.7 88.3C245.6 88.9 249.2 91 253.3 92.5C257.5 94 261.7 96 266.7 97.5C271.7 99 277.8 100.1 283.3 101.3C288.9 102.5 298.9 103.8 300 104.7C301.1 105.5 289.4 105.2 290 106.3C290.6 107.4 298.9 109.4 303.3 111.3C307.8 113.3 312.2 115.7 316.7 118C321.1 120.3 325.6 123 330 125.3C334.4 127.7 338.9 129.6 343.3 132C347.8 134.4 353.3 137.6 356.7 139.7C360 141.8 361.8 143.1 363.3 144.7C364.9 146.2 365.7 147.7 365.8 149.2C366 150.6 364.4 152.7 364.2 153.3C363.9 154 364.9 153.1 364.2 153C363.5 152.9 370.7 156.8 360 153C349.3 149.2 324.7 134.5 300 130C275.3 125.5 227.8 128 212 126C196.2 124 215.3 122.3 205 118C194.7 113.7 167.5 105.7 150 100C132.5 94.3 118.3 89 100 84C81.7 79 50.8 72.3 40 70C29.2 67.7 35.8 73.6 35 70C34.2 66.4 33.3 52.4 35 48.3Z" fill="#00BFFF" />
<path d="M35 55.8C36.7 53.4 40.6 55.5 45 55.3C49.4 55.1 58.3 55.8 61.3 54.7C64.3 53.5 61 49.4 63 48.3C65 47.2 69.9 47.6 73.3 48C76.7 48.4 79.7 49.4 83.3 50.8C86.9 52.3 91.1 54.6 95 56.7C98.9 58.8 102.8 61.3 106.7 63.3C110.6 65.4 113.9 67.3 118.3 69.2C122.8 71.1 129.7 73.5 133.3 74.7C136.9 75.9 136.1 75.5 140 76.3C143.9 77.2 151.1 78.6 156.7 79.7C162.2 80.8 167.8 81.7 173.3 82.8C178.9 83.9 184.4 85.2 190 86.3C195.6 87.4 201.1 88.5 206.7 89.3C212.2 90.2 217.8 90.8 223.3 91.3C228.9 91.9 241.1 92.7 240 92.8C238.9 92.9 218.3 92.3 216.7 92C215 91.7 225.8 91.1 230 90.8C234.2 90.6 237.8 89.8 241.7 90.3C245.6 90.9 249.2 92.8 253.3 94.2C257.5 95.6 261.7 97.3 266.7 98.7C271.7 100.1 277.8 101.3 283.3 102.5C288.9 103.7 298.9 105.1 300 105.8C301.1 106.6 289.4 105.9 290 107C290.6 108.1 298.9 110.2 303.3 112.2C307.8 114.1 312.2 116.5 316.7 118.8C321.1 121.1 325.6 123.7 330 126C334.4 128.3 339 130.3 343.3 132.7C347.6 135.1 352.6 138.2 355.8 140.3C359 142.4 361.1 143.8 362.5 145.3C363.9 146.9 364.4 148.3 364.5 149.5C364.6 150.7 363.5 151.9 363.3 152.5C363.1 153.1 363.9 152.9 363.3 153C362.8 153.1 370.6 156.8 360 153C349.4 149.2 324.7 134.5 300 130C275.3 125.5 227.8 128 212 126C196.2 124 215.3 122.3 205 118C194.7 113.7 167.5 105.7 150 100C132.5 94.3 118.3 89 100 84C81.7 79 50.8 72.3 40 70C29.2 67.7 35.8 72.4 35 70C34.2 67.6 33.3 58.3 35 55.8Z" fill="#5FC4F5" />
<path d="M35 58C36.7 56 40 57.7 45 58C50 58.3 59.2 59.7 65 60C70.8 60.3 76.9 60.4 80 59.7C83.1 59 81 56.3 83.7 55.8C86.3 55.4 92 55.6 95.8 57C99.7 58.4 103.8 62.3 106.7 64.2C109.6 66 110.6 66.8 113.3 68C116.1 69.2 120 70.4 123.3 71.7C126.7 73 130.6 74.9 133.3 75.8C136.1 76.8 136.1 76.7 140 77.5C143.9 78.3 151.1 79.8 156.7 80.8C162.2 81.9 167.8 82.6 173.3 83.7C178.9 84.8 184.4 86.4 190 87.5C195.6 88.6 201.7 89.7 206.7 90.5C211.7 91.3 215.6 92 220 92.5C224.4 93 233.9 93.2 233.3 93.3C232.8 93.5 217.2 93.6 216.7 93.3C216.1 93.1 225.8 92.3 230 92C234.2 91.7 237.8 91.1 241.7 91.7C245.6 92.2 249.2 93.9 253.3 95.3C257.5 96.7 261.7 98.6 266.7 100C271.7 101.4 277.8 102.5 283.3 103.7C288.9 104.8 298.9 106.4 300 107C301.1 107.6 289.4 106.5 290 107.5C290.6 108.5 298.9 111 303.3 113C307.8 115 312.2 117.4 316.7 119.7C321.1 121.9 325.6 124.4 330 126.7C334.4 128.9 339.2 131 343.3 133.3C347.5 135.7 351.9 138.8 355 140.8C358.1 142.9 360.3 144.3 361.7 145.8C363.1 147.4 363.1 148.8 363.3 150C363.6 151.2 363.9 152.5 363.3 153C362.8 153.5 370.6 156.8 360 153C349.4 149.2 324.7 134.5 300 130C275.3 125.5 227.8 128 212 126C196.2 124 215.3 122.3 205 118C194.7 113.7 167.5 105.7 150 100C132.5 94.3 118.3 89 100 84C81.7 79 50.8 72.3 40 70C29.2 67.7 35.8 72 35 70C34.2 68 33.3 60 35 58Z" fill="#A5D7F3" />
<path d="M35 59.2C36.7 57.4 40 58.8 45 59.2C50 59.6 58.6 60.8 65 61.7C71.4 62.5 77.8 63.6 83.3 64.2C88.9 64.7 94.4 64.4 98.3 65C102.2 65.6 103.3 66.4 106.7 67.5C110 68.6 113.9 70.1 118.3 71.7C122.8 73.2 129.7 75.5 133.3 76.7C136.9 77.8 136.1 77.7 140 78.7C143.9 79.6 151.1 81 156.7 82.5C162.2 84 167.8 85.6 173.3 87.5C178.9 89.4 185 92.6 190 94.2C195 95.7 198.6 97 203.3 97C208.1 97 215.7 94.4 218.3 94.2C221 94 217.2 95.8 219.2 95.8C221.1 95.9 226.2 94.7 230 94.7C233.8 94.7 237.5 95 241.7 95.8C245.8 96.7 250.8 98.7 255 99.7C259.2 100.6 263.1 100.8 266.7 101.7C270.3 102.5 273.3 103.4 276.7 104.7C280 105.9 282.8 107.7 286.7 109.2C290.6 110.6 299.4 112.6 300 113.3C300.6 114 289.4 112.8 290 113.3C290.6 113.9 298.9 115.1 303.3 116.7C307.8 118.2 312.2 120.4 316.7 122.5C321.1 124.6 325.6 126.9 330 129.2C334.4 131.4 339.2 133.6 343.3 135.8C347.5 138.1 352.1 140.6 355 142.5C357.9 144.4 359.6 146.2 360.8 147.5C362.1 148.8 362.2 149.1 362.5 150C362.8 150.9 362.9 152.5 362.5 153C362.1 153.5 370.4 156.8 360 153C349.6 149.2 324.7 134.5 300 130C275.3 125.5 227.8 128 212 126C196.2 124 215.3 122.3 205 118C194.7 113.7 167.5 105.7 150 100C132.5 94.3 118.3 89 100 84C81.7 79 50.8 72.3 40 70C29.2 67.7 35.8 71.8 35 70C34.2 68.2 33.3 61 35 59.2Z" fill="#FFFFCC" />
<path d="M35 60C36.7 58.3 40 59.5 45 60C50 60.5 58.6 61.9 65 62.8C71.4 63.8 76.4 64.7 83.3 65.8C90.3 67 98.3 67.6 106.7 69.7C115 71.7 127.8 76.6 133.3 78.3C138.9 80.1 136.1 79.2 140 80C143.9 80.8 151.1 81.9 156.7 83.3C162.2 84.7 167.8 86.4 173.3 88.3C178.9 90.3 185 93.3 190 95C195 96.7 199.4 97.4 203.3 98.7C207.2 99.9 210 101 213.3 102.5C216.7 104 220 106.8 223.3 107.5C226.7 108.2 229.4 106.7 233.3 106.7C237.2 106.7 242.8 106.2 246.7 107.5C250.6 108.8 252.8 112.9 256.7 114.2C260.6 115.5 265 114.8 270 115.3C275 115.9 281.7 116.9 286.7 117.5C291.7 118.1 299.4 119 300 118.7C300.6 118.3 289.4 115.3 290 115.3C290.6 115.3 298.9 117.2 303.3 118.7C307.8 120.1 312.2 122.1 316.7 124.2C321.1 126.2 325.6 128.6 330 130.8C334.4 133.1 339.2 135.3 343.3 137.5C347.5 139.7 352.2 142.4 355 144.2C357.8 146 358.9 147.3 360 148.3C361.1 149.4 361.4 149.6 361.7 150.3C361.9 151.1 361.9 152.6 361.7 153C361.4 153.4 370.3 156.8 360 153C349.7 149.2 324.7 134.5 300 130C275.3 125.5 227.8 128 212 126C196.2 124 215.3 122.3 205 118C194.7 113.7 167.5 105.7 150 100C132.5 94.3 118.3 89 100 84C81.7 79 50.8 72.3 40 70C29.2 67.7 35.8 71.7 35 70C34.2 68.3 33.3 61.7 35 60Z" fill="#FFF060" />
<path d="M190 91.7C191.7 91.2 195.3 92.5 200 93.3C204.7 94.2 213.1 95.3 218.3 96.7C223.6 98.1 229.6 100.1 231.7 101.7C233.8 103.3 232.2 105.4 230.8 106.3C229.4 107.3 225.7 108 223.3 107.5C221 107 219.2 104.6 216.7 103.3C214.2 102.1 211.1 100.9 208.3 100C205.6 99.1 203.1 98.7 200 98C196.9 97.3 191.7 96.9 190 95.8C188.3 94.8 188.3 92.1 190 91.7Z" fill="#A5D7F3" />
<path d="M249.2 105C249.4 104.4 252.1 103.6 255 103.3C257.9 103.1 263.1 103.4 266.7 103.7C270.3 103.9 275.6 104.5 276.7 105C277.8 105.5 275.6 106.3 273.3 106.7C271.1 107 266.7 107 263.3 107C260 107 255.7 107 253.3 106.7C251 106.3 248.9 105.6 249.2 105Z" fill="#A5D7F3" />
<path d="M239.2 115.3C239.4 114.8 241.5 114.2 243.3 114.2C245.1 114.1 249 114.4 250 115C251 115.6 250.6 117.1 249.2 117.5C247.8 117.9 243.3 117.9 241.7 117.5C240 117.1 238.9 115.9 239.2 115.3Z" fill="#A5D7F3" />
<path d="M231.7 109.2C231.7 108.3 235.3 107.7 238.3 107.5C241.4 107.3 247.2 107.5 250 108C252.8 108.5 255 109.6 255 110.3C255 111.1 252.8 112.1 250 112.5C247.2 112.9 241.4 113.1 238.3 112.5C235.3 111.9 231.7 110 231.7 109.2Z" fill="#FFF060" />
<path d="M246.7 100C246.7 99.4 251.7 98.9 255 99.2C258.3 99.4 265 100.6 266.7 101.3C268.3 102 266.9 103.1 265 103.3C263.1 103.5 258.1 103.1 255 102.5C251.9 101.9 246.7 100.6 246.7 100Z" fill="#FFF060" />
<path d="M235.8 109.7C236.5 109.2 240.1 108.6 242.5 108.7C244.9 108.7 249.3 109.5 250 110C250.7 110.5 248.6 111.4 246.7 111.7C244.7 111.9 240.1 112 238.3 111.7C236.5 111.3 235.1 110.2 235.8 109.7Z" fill="#FFA800" />
<path d="M45 61C48.3 59.7 58.6 62.4 65 63.3C71.4 64.2 76.4 65.2 83.3 66.3C90.3 67.5 98.3 68.3 106.7 70.3C115 72.4 127.8 77.1 133.3 78.8C138.9 80.6 136.1 79.9 140 80.8C143.9 81.7 151.1 82.8 156.7 84.2C162.2 85.5 167.8 86.9 173.3 88.8C178.9 90.7 185 93.6 190 95.5C195 97.4 199.7 98.5 203.3 100C206.9 101.5 208.9 103.2 211.7 104.7C214.4 106.1 218.1 107.4 220 108.7C221.9 109.9 222.8 109 223.3 112C223.9 115 225.2 124.2 223.3 126.5C221.4 128.8 215.1 127.4 212 126C208.9 124.6 215.3 122.3 205 118C194.7 113.7 167.5 105.7 150 100C132.5 94.3 117.5 88.8 100 84C82.5 79.2 54.2 75 45 71.2C35.8 67.3 41.7 62.3 45 61Z" fill="#FFD020" />
<path d="M50 62C52.5 60.6 59.4 63.1 65 63.8C70.6 64.6 76.4 65.5 83.3 66.7C90.3 67.9 98.3 68.9 106.7 71C115 73.1 127.8 77.6 133.3 79.3C138.9 81.1 136.1 80.7 140 81.7C143.9 82.6 151.1 83.7 156.7 85C162.2 86.3 167.8 87.8 173.3 89.7C178.9 91.6 185 94.3 190 96.3C195 98.3 199.7 99.8 203.3 101.7C206.9 103.5 208.9 106.1 211.7 107.5C214.4 108.9 218.3 109.1 220 110C221.7 110.9 221.4 110.3 221.7 113C221.9 115.7 223.3 124.3 221.7 126.4C220.1 128.6 214.8 127.4 212 126C209.2 124.6 215.3 122.3 205 118C194.7 113.7 167.5 105.7 150 100C132.5 94.3 116.7 88.6 100 84C83.3 79.4 58.3 76 50 72.3C41.7 68.7 47.5 63.4 50 62Z" fill="#FFA800" />
<path d="M56.7 63.3C61.1 62.2 75 65.7 83.3 67C91.7 68.3 98.3 69.2 106.7 71.3C115 73.4 127.8 77.9 133.3 79.7C138.9 81.5 136.1 81.2 140 82.2C143.9 83.1 151.1 84.2 156.7 85.5C162.2 86.8 168.3 88.4 173.3 90.2C178.3 92 183.1 94.4 186.7 96.3C190.3 98.2 193.6 98.6 195 101.7C196.4 104.7 202.5 115 195 114.7C187.5 114.4 165.8 105.1 150 100C134.2 94.9 115.6 88.4 100 84C84.4 79.6 63.9 77.3 56.7 73.9C49.4 70.4 52.2 64.5 56.7 63.3Z" fill="#FF8000" />
<path d="M65 65C68.1 63.6 76.4 66.5 83.3 67.7C90.3 68.9 98.3 70.1 106.7 72.2C115 74.3 127.8 78.6 133.3 80.3C138.9 82.1 136.1 81.7 140 82.7C143.9 83.6 151.1 84.8 156.7 86.2C162.2 87.6 169.2 89.5 173.3 91C177.5 92.5 179.4 93.9 181.7 95.3C183.9 96.8 185.8 96.9 186.7 99.7C187.5 102.4 192.8 111.9 186.7 112C180.6 112.1 164.4 104.7 150 100C135.6 95.3 114.2 88 100 84C85.8 80 70.8 79 65 75.8C59.2 72.7 61.9 66.4 65 65Z" fill="#FF4800" />
<path d="M73.3 66.3C75 64.8 77.8 67.2 83.3 68.3C88.9 69.4 98.3 70.9 106.7 73C115 75.1 127.8 79.1 133.3 80.8C138.9 82.6 136.1 82.3 140 83.3C143.9 84.4 151.4 85.6 156.7 87C161.9 88.4 168.1 90.1 171.7 91.7C175.3 93.2 177.2 93.4 178.3 96.3C179.4 99.3 183.1 108.7 178.3 109.3C173.6 109.9 163.1 104.2 150 100C136.9 95.8 112.8 87.7 100 84C87.2 80.3 77.8 80.7 73.3 77.8C68.9 74.8 71.7 67.9 73.3 66.3Z" fill="#FF0000" />
<path d="M98.3 74C99.7 72.6 100.8 74 106.7 75.5C112.5 77 127.8 81.2 133.3 83C138.9 84.8 137.2 85.2 140 86C142.8 86.8 146.9 87.2 150 88C153.1 88.8 156.9 88.5 158.3 91C159.7 93.5 159.7 101.2 158.3 102.7C156.9 104.2 159.7 103.1 150 100C140.3 96.9 108.6 86.7 100 84C91.4 81.3 98.6 85.3 98.3 83.6C98.1 81.9 96.9 75.4 98.3 74Z" fill="#D80000" />
<path d="M196.7 98.3C197.2 97.4 197.8 98.3 200 99.2C202.2 100 206.7 101.7 210 103.3C213.3 105 217.2 107.5 220 109.2C222.8 110.8 226.1 112.2 226.7 113.3C227.2 114.4 225.6 116 223.3 115.8C221.1 115.7 216.4 113.8 213.3 112.5C210.3 111.2 207.2 109.2 205 108.3C202.8 107.5 201.4 108.1 200 107.5C198.6 106.9 197.2 106.5 196.7 105C196.1 103.5 196.1 99.3 196.7 98.3Z" fill="#FFA800" />
<path d="M196.7 101.7C197.2 101.2 198.1 101.8 200 102.5C201.9 103.2 205.8 104.6 208.3 105.8C210.8 107.1 214.4 109.2 215 110C215.6 110.8 213.6 111.3 211.7 110.8C209.7 110.3 205.8 108 203.3 107C200.8 106 197.8 105.9 196.7 105C195.6 104.1 196.1 102.1 196.7 101.7Z" fill="#FF4800" />
<path d="M250 117C252.8 115 260.6 115.5 266.7 115.8C272.8 116.2 281.1 118.2 286.7 119.2C292.2 120.1 296.1 120.7 300 121.7C303.9 122.6 306.1 123.8 310 125C313.9 126.2 318.9 127.4 323.3 129.2C327.8 131 332.2 133.4 336.7 135.8C341.1 138.2 346.1 141.4 350 143.7C353.9 145.9 358 147.9 360 149.5C362 151.1 372 155.9 362 153C352 150.1 318.7 136.2 300 132C281.3 127.8 258.3 130.5 250 128C241.7 125.5 247.2 119 250 117Z" fill="#FFD020" />
<path d="M251.7 118C253.9 117.4 261.4 116.7 266.7 117C271.9 117.3 280 119.2 283.3 120C286.7 120.8 289.4 121.4 286.7 121.7C283.9 121.9 272.2 121.9 266.7 121.7C261.1 121.4 255.8 120.9 253.3 120.3C250.8 119.7 249.4 118.6 251.7 118Z" fill="#FF8000" />
<path d="M255.8 118.3C256.1 117.8 260.4 117.6 263.3 117.7C266.2 117.7 271.9 118.2 273.3 118.7C274.7 119.2 273.6 120.3 271.7 120.7C269.7 121 264.3 121.2 261.7 120.8C259 120.4 255.6 118.9 255.8 118.3Z" fill="#FF0000" />
<path d="M308.3 128.7C308.9 128.1 313.1 127.8 316.7 128.3C320.3 128.9 327.4 131.1 330 132.2C332.6 133.2 333.6 134.1 332.5 134.5C331.4 134.9 326.5 135 323.3 134.5C320.1 134 315.8 132.6 313.3 131.7C310.8 130.7 307.8 129.2 308.3 128.7Z" fill="#FF8000" />
<path d="M402.5 165C401.8 163.9 402.2 159.8 403.5 157.5C404.8 155.2 406.4 154 410 151.2C413.6 148.5 420 144.3 425 141.2C430 138.2 433.3 135.5 440 133C446.7 130.5 456.7 128.7 465 126.5C473.3 124.3 482.9 121.4 490 120C497.1 118.6 501.7 118 507.5 118C513.3 118 519.6 118.6 525 120C530.4 121.4 536.5 124 540 126.2C543.5 128.5 545.4 131.9 546.2 133.8C547.1 135.6 546 136.5 545 137.5C544 138.5 546.7 139.2 540 139.5C533.3 139.8 515.8 138.5 505 139.5C494.2 140.5 485.8 142.8 475 145.5C464.2 148.2 448.3 152.9 440 155.5C431.7 158.1 430.3 159.8 425 161.2C419.7 162.7 411.8 163.4 408 164C404.2 164.6 403.2 166.1 402.5 165Z" fill="#2B7FF2" />
<path d="M403.5 164.5C402.9 163.5 403.4 159.9 404.5 158C405.6 156.1 406.6 155.5 410 153C413.4 150.5 420 146.2 425 143.2C430 140.2 433.3 137.4 440 135C446.7 132.6 456.7 130.8 465 128.8C473.3 126.7 482.9 123.9 490 122.5C497.1 121.1 501.7 120.6 507.5 120.5C513.3 120.4 519.8 120.8 525 122C530.2 123.2 535.6 125.3 538.8 127.5C541.9 129.7 542.7 133.3 543.8 135C544.8 136.7 545.6 136.8 545 137.5C544.4 138.2 546.7 139.2 540 139.5C533.3 139.8 515.8 138.5 505 139.5C494.2 140.5 485.8 142.8 475 145.5C464.2 148.2 448.3 152.9 440 155.5C431.7 158.1 430.3 159.8 425 161.2C419.7 162.7 411.6 163.5 408 164C404.4 164.5 404.1 165.5 403.5 164.5Z" fill="#169EFF" />
<path d="M404.2 164.2C403.8 163.4 404.3 160.4 405.2 158.8C406.2 157.1 406.7 156.8 410 154.5C413.3 152.2 420 148 425 145C430 142 433.3 139.1 440 136.8C446.7 134.4 456.7 132.5 465 130.8C473.3 129 482.7 127 490 126C497.3 125 503.8 124.2 508.8 124.5C513.8 124.8 519 126.2 520 127.5C521 128.8 517.1 131.2 515 132.5C512.9 133.8 502.5 134.2 507.5 135C512.5 135.8 539.6 136.8 545 137.5C550.4 138.2 546.7 139.2 540 139.5C533.3 139.8 515.8 138.5 505 139.5C494.2 140.5 485.8 142.8 475 145.5C464.2 148.2 448.3 152.9 440 155.5C431.7 158.1 430.3 159.8 425 161.2C419.7 162.7 411.5 163.5 408 164C404.5 164.5 404.7 165.1 404.2 164.2Z" fill="#00BFFF" />
<path d="M405 164C404.7 163.2 405.2 160.8 406 159.5C406.8 158.2 406.8 158.1 410 156C413.2 153.9 420 149.9 425 147C430 144.1 433.3 140.8 440 138.5C446.7 136.2 456.7 134.5 465 133C473.3 131.5 482.9 130.3 490 129.5C497.1 128.7 503.5 127.7 507.5 128C511.5 128.3 514 130.1 513.8 131.2C513.5 132.4 501 134 506.2 135C511.5 136 539.4 136.8 545 137.5C550.6 138.2 546.7 139.2 540 139.5C533.3 139.8 515.8 138.5 505 139.5C494.2 140.5 485.8 142.8 475 145.5C464.2 148.2 448.3 152.9 440 155.5C431.7 158.1 430.3 159.8 425 161.2C419.7 162.7 411.3 163.5 408 164C404.7 164.5 405.3 164.8 405 164Z" fill="#5FC4F5" />
<path d="M405.8 163.8C405.5 163.1 406 161.3 406.8 160.2C407.5 159.2 407 159.4 410 157.5C413 155.6 420 151.8 425 149C430 146.2 433.3 142.6 440 140.5C446.7 138.4 456.7 137.7 465 136.5C473.3 135.3 483.8 134 490 133.5C496.2 133 500.6 133.2 502.5 133.8C504.4 134.2 494.2 135.9 501.2 136.5C508.3 137.1 538.5 137 545 137.5C551.5 138 546.7 139.2 540 139.5C533.3 139.8 515.8 138.5 505 139.5C494.2 140.5 485.8 142.8 475 145.5C464.2 148.2 448.3 152.9 440 155.5C431.7 158.1 430.3 159.8 425 161.2C419.7 162.7 411.2 163.6 408 164C404.8 164.4 406 164.4 405.8 163.8Z" fill="#A5D7F3" />
<path d="M406.5 163.5C406 163.2 406.7 161.8 407.5 161C408.3 160.2 409.6 159.7 411.2 159C412.9 158.3 416.7 156.9 417.5 157C418.3 157.1 417.2 158.6 416 159.5C414.8 160.4 412.1 161.8 410.5 162.5C408.9 163.2 407 163.8 406.5 163.5Z" fill="#FFFFCC" />
<path d="M288.2 229.3C287.9 227.9 288.3 223.6 289.8 221C291.4 218.4 294.1 215.6 297.3 213.5C300.5 211.4 304.8 209.9 309 208.5C313.2 207.1 318.2 205.8 322.3 205.2C326.5 204.5 330.7 204.5 334 204.7C337.3 204.8 340 205.2 342.3 206C344.7 206.8 347.3 207.7 348.2 209.3C349 211 349.7 215.2 347.3 216C345 216.8 339 214.3 334 214.3C329 214.3 322.9 214.6 317.3 216C311.8 217.4 305 220.4 300.7 222.7C296.4 224.9 293.6 228.2 291.5 229.3C289.4 230.4 288.4 230.7 288.2 229.3Z" fill="#1A2DF2" />
<path d="M289 229C288.9 227.6 289 223.2 290.7 220.7C292.3 218.2 295.7 215.8 299 214C302.3 212.2 306.9 211.2 310.7 210C314.4 208.8 318 207.7 321.5 207C325 206.3 328.4 206 331.5 206C334.6 206 337.4 206.3 339.8 207C342.2 207.7 345 208.5 346 210C347 211.5 347.7 215.3 345.7 216C343.7 216.7 338.7 214.3 334 214.3C329.3 214.3 322.9 214.6 317.3 216C311.8 217.4 305 220.4 300.7 222.7C296.4 224.9 293.4 228.3 291.5 229.3C289.6 230.4 289.1 230.4 289 229Z" fill="#2B7FF2" />
<path d="M289.7 228.5C289.7 227 289.7 222.5 291.5 220.2C293.3 217.9 297.5 216.1 300.7 214.7C303.9 213.2 307.3 212.4 310.7 211.3C314 210.3 317.3 209.2 320.7 208.5C324 207.8 327.3 207.4 330.7 207.3C334 207.3 337.3 207.7 340.7 208.3C344 209 346.8 209.6 350.7 211.3C354.6 213 359 215.6 364 218.5C369 221.4 376.1 225.5 380.7 228.5C385.2 231.5 390.1 234.8 391.3 236.3C392.6 237.9 390.5 237.2 388.2 237.7C385.8 238.1 383.6 239 377.3 239C371.1 239 359.3 238.9 350.7 237.7C342.1 236.5 334 232.9 325.7 231.8C317.3 230.7 306.4 231.4 300.7 231C295 230.6 293.3 229.8 291.5 229.3C289.7 228.9 289.7 230 289.7 228.5Z" fill="#169EFF" />
<path d="M290 228.3C290 226.8 289.9 222.5 291.7 220.3C293.4 218.1 297.5 216.6 300.7 215.2C303.8 213.8 307.3 212.9 310.7 211.8C314 210.8 317.3 209.6 320.7 209C324 208.4 327.3 208.1 330.7 208.2C334 208.2 337.3 208.6 340.7 209.3C344 210.1 346.9 211.1 350.7 212.7C354.4 214.3 358.4 216.4 363.2 219C367.9 221.6 374.3 225.1 379 228C383.7 230.9 389.6 234.6 391.2 236.2C392.7 237.8 390.5 237.2 388.2 237.7C385.9 238.1 383.6 239 377.3 239C371.1 239 359.3 238.9 350.7 237.7C342.1 236.5 334 232.9 325.7 231.8C317.3 230.7 306.4 231.4 300.7 231C295 230.6 293.3 229.8 291.5 229.3C289.7 228.9 290 229.8 290 228.3Z" fill="#00BFFF" />
<path d="M290.3 228C290.4 226.5 290.3 222.4 292 220.3C293.7 218.3 297.6 217 300.7 215.7C303.8 214.3 307.3 213.3 310.7 212.3C314 211.3 317.3 210.2 320.7 209.7C324 209.1 327.3 208.8 330.7 209C334 209.2 337.3 209.8 340.7 210.7C344 211.6 347.1 212.8 350.7 214.3C354.3 215.8 357.9 217.5 362.3 219.7C366.8 221.8 372.6 224.6 377.3 227.3C382.1 230.1 389.2 234.3 391 236C392.8 237.7 390.4 237.2 388.2 237.7C385.9 238.2 383.6 239 377.3 239C371.1 239 359.3 238.9 350.7 237.7C342.1 236.5 334 232.9 325.7 231.8C317.3 230.7 306.4 231.4 300.7 231C295 230.6 293.2 229.8 291.5 229.3C289.8 228.8 290.2 229.5 290.3 228Z" fill="#5FC4F5" />
<path d="M290.7 227.8C290.8 226.4 290.5 222.6 292.2 220.7C293.8 218.7 297.6 217.5 300.7 216.2C303.8 214.9 307.3 213.8 310.7 212.8C314 211.9 317.3 210.9 320.7 210.3C324 209.8 327.3 209.4 330.7 209.7C334 209.9 337.3 210.7 340.7 211.7C344 212.7 347.1 214.2 350.7 215.7C354.3 217.1 358.2 218.5 362.3 220.3C366.5 222.2 370.9 224.1 375.7 226.7C380.4 229.2 388.8 234 390.8 235.8C392.9 237.7 390.4 237.1 388.2 237.7C385.9 238.2 383.6 239 377.3 239C371.1 239 359.3 238.9 350.7 237.7C342.1 236.5 334 232.9 325.7 231.8C317.3 230.7 306.4 231.4 300.7 231C295 230.6 293.2 229.9 291.5 229.3C289.8 228.8 290.6 229.3 290.7 227.8Z" fill="#A5D7F3" />
<path d="M291 227.7C291.1 226.3 290.7 222.8 292.3 221C293.9 219.2 297.6 217.9 300.7 216.7C303.7 215.4 307.3 214.3 310.7 213.3C314 212.4 317.3 211.5 320.7 211C324 210.5 327.3 210.2 330.7 210.5C334 210.8 337.3 211.6 340.7 212.7C344 213.7 347.1 215.4 350.7 216.8C354.3 218.2 358.4 219.5 362.3 221C366.2 222.5 370.4 224.3 374 226C377.6 227.7 381.2 229.4 384 231C386.8 232.6 390 234.4 390.7 235.5C391.4 236.6 390.4 237.1 388.2 237.7C385.9 238.2 383.6 239 377.3 239C371.1 239 359.3 238.9 350.7 237.7C342.1 236.5 334 232.9 325.7 231.8C317.3 230.7 306.4 231.4 300.7 231C295 230.6 293.1 229.9 291.5 229.3C289.9 228.8 290.9 229.1 291 227.7Z" fill="#FFFFCC" />
<path d="M292.3 227.3C292.8 226 292.6 222.9 294 221.3C295.4 219.8 297.9 219.1 300.7 218C303.4 216.9 307.1 216 310.7 215C314.3 214 318.7 212.5 322.3 212.2C325.9 211.8 329 212.4 332.3 213C335.7 213.6 338.7 214.9 342.3 216C345.9 217.1 349.8 218.2 354 219.7C358.2 221.1 363.2 223 367.3 224.7C371.5 226.3 375.3 227.9 379 229.7C382.7 231.4 387.8 233.7 389.3 235C390.9 236.3 390.2 237 388.2 237.7C386.2 238.3 383.6 239 377.3 239C371.1 239 359.3 238.9 350.7 237.7C342.1 236.5 334 232.9 325.7 231.8C317.3 230.7 306.4 231.4 300.7 231C295 230.6 292.9 229.9 291.5 229.3C290.1 228.7 291.9 228.7 292.3 227.3Z" fill="#FFF060" />
<path d="M295.7 226.8C296.6 225.5 295.7 222.8 297.3 221.3C299 219.9 302.3 219 305.7 218C309 217 314 216 317.3 215.5C320.7 215 322.9 214.7 325.7 215C328.4 215.3 330.4 216.4 334 217.2C337.6 217.9 343.2 218.7 347.3 219.7C351.5 220.6 355.1 221.8 359 223C362.9 224.2 366.8 225.6 370.7 227.2C374.6 228.7 379.2 230.8 382.3 232.2C385.4 233.6 388.4 234.8 389.3 235.7C390.3 236.6 390.2 237.1 388.2 237.7C386.2 238.2 383.6 239 377.3 239C371.1 239 359.3 238.9 350.7 237.7C342.1 236.5 334 232.9 325.7 231.8C317.3 230.7 306.4 231.4 300.7 231C295 230.6 292.3 230 291.5 229.3C290.7 228.6 294.7 228.2 295.7 226.8Z" fill="#FFD020" />
<path d="M304 221.3C305.7 220.6 312.9 218.9 317.3 218.3C321.8 217.8 326.5 217.9 330.7 218.2C334.8 218.4 338.4 219.1 342.3 219.8C346.2 220.5 349.8 221.2 354 222.3C358.2 223.4 363.2 225.1 367.3 226.5C371.5 227.9 375.3 229.4 379 231C382.7 232.6 388.5 235.3 389.3 236C390.2 236.7 386.6 236 384 235.3C381.4 234.6 377.6 233.1 374 231.8C370.4 230.6 366.2 229.2 362.3 228C358.4 226.8 354.6 225.6 350.7 224.7C346.8 223.8 342.9 223.2 339 222.7C335.1 222.1 331.2 221.6 327.3 221.3C323.4 221.1 319 221.1 315.7 221.3C312.3 221.6 309.3 222.7 307.3 222.7C305.4 222.7 302.3 222.1 304 221.3Z" fill="#FFA800" />
<path d="M334 219.3C334.8 219.2 339 219.9 342.3 220.5C345.7 221.1 349.8 221.9 354 223C358.2 224.1 363.4 225.9 367.3 227.3C371.2 228.7 376.8 230.9 377.3 231.3C377.9 231.8 373.7 230.9 370.7 230C367.6 229.1 362.9 227.2 359 226C355.1 224.8 350.9 223.8 347.3 223C343.7 222.2 339.6 221.6 337.3 221C335.1 220.4 333.2 219.4 334 219.3Z" fill="#FF8000" />
<path d="M422.2 330C423.7 328.5 429.5 323.4 433.5 321.5C437.5 319.6 441.8 318.8 446 318.5C450.2 318.2 453.5 318.8 458.5 319.5C463.5 320.2 471.9 321.3 476 322.5C480.1 323.7 482.2 325.8 483 326.5C483.8 327.2 486.3 327.1 481 327C475.7 326.9 460.4 325.1 451 325.8C441.6 326.4 429.5 330 424.8 330.8C420 331.5 420.8 331.5 422.2 330Z" fill="#169EFF" />
<path d="M423.5 330C425.2 328.7 430.8 324.7 434.8 323C438.7 321.3 443.1 320.3 447.2 320C451.4 319.7 455 320.4 459.8 321C464.5 321.6 472.3 322.8 476 323.8C479.7 324.7 481.2 326.2 482 326.8C482.8 327.3 486.2 327.2 481 327C475.8 326.8 460.4 325.1 451 325.8C441.6 326.4 429.3 330 424.8 330.8C420.2 331.5 421.8 331.3 423.5 330Z" fill="#00BFFF" />
<path d="M424.8 330C426.6 329 432 325.9 436 324.5C440 323.1 444.3 321.9 448.5 321.5C452.7 321.1 456.4 321.7 461 322.2C465.6 322.8 472.7 324 476 324.8C479.3 325.5 480.2 326.6 481 327C481.8 327.4 486 327.2 481 327C476 326.8 460.4 325.1 451 325.8C441.6 326.4 429.1 330 424.8 330.8C420.4 331.5 422.9 331 424.8 330Z" fill="#5FC4F5" />
<path d="M426 330C428.1 329.2 433.3 327 437.2 325.8C441.2 324.5 445.6 323.2 449.8 322.8C453.9 322.3 457.9 322.8 462.2 323.2C466.6 323.8 473.1 325.1 476 325.8C478.9 326.4 478.9 327 479.8 327.2C480.6 327.5 485.8 327.2 481 327C476.2 326.8 460.4 325.1 451 325.8C441.6 326.4 428.9 330 424.8 330.8C420.6 331.5 423.9 330.8 426 330Z" fill="#A5D7F3" />
<path d="M451 324C452 323.4 454.8 322.2 457.2 322C459.8 321.8 464.1 322.5 466 323C467.9 323.5 466 324.3 468.5 325C471 325.7 483.9 326.9 481 327C478.1 327.1 456 326.2 451 325.8C446 325.2 450 324.6 451 324Z" fill="#FFFFCC" />
<path d="M40 62.5 L44 63 L56.7 64.2 L76.7 68.7 L83.3 72.5 L95 74.7 L106.7 78.3 L115 81.7 L126.7 85 L133.3 87.5 L143.3 91.3 L151.7 92.5 L161.7 94.2 L170 97.5 L181.7 100 L190 102.5 L195 105.8 L203.3 108.3 L211.7 107.8 L212.5 110.8 L207.5 112 L208.3 115.8 L210.8 120 L216.7 121.7 L225 123 L225 135 L150 120 L100 100 L40 80Z" fill="#fff" />
<path d="M241 121 L246 122.5 L250 126 L252.5 124 L252 121.5 L262 122 L274 123.5 L284 122.5 L293.3 123 L300 127 L306.7 130.5 L311.7 133.2 L320 137 L330 141.5 L340 142.7 L346.7 146.5 L356.7 148.9 L362.5 150.8 L357 154.5 L340 157.5 L335 160 L334 166 L326 167.5 L321 169.5 L316 172 L304 171 L292 171 L287 173 L284.5 175 L289.5 180 L300 170 L320 150 L300 135 L250 130Z" fill="#fff" />
<path d="M44.5 185 L52.5 180.5 L60 175.5 L63.8 171.5 L66 168 L64 166.5 L55 173 L44.5 179Z" fill="#fff" />
<path d="M81 166.2 L80.8 168.7 L90 170.4 L110 172.2 L121.7 171.2 L130 169 L136.7 168.2 L151.7 169.7 L160 172.2 L165 175.7 L167.5 184.2 L172 187.2 L180 190.7 L190 193.9 L200 192.7 L210 198 L225 200.7 L227.5 205 L235 205.7 L240 208.5 L247.5 209.2 L253.7 210.5 L262.5 209.2 L265 204.5 L272 205.5 L284 205.8 L290 198 L289 190 L284 185 L260 186 L200 186 L170 172 L150 164 L92 164 L90 166.5Z" fill="#fff" />
<path d="M282.4 170.4 L289.1 169.7 L289.9 176.4 L289.1 182.3 L291.3 187.5 L292.8 192 L291.3 198.4 L286.4 203.9 L281.7 204.9 L277.9 203.2 L274.2 199 L266.8 196 L264.6 192 L269.8 188 L278.7 185.6 L284.6 183.8Z" fill="#fff" />
<path d="M284.6 185.6C284.9 185 288.6 186.5 289.9 187.5C291.1 188.6 292.2 190.2 292.4 192C292.6 193.8 291.9 196.3 290.9 198.2C289.9 200.2 287.8 202.4 286.4 203.5C285 204.5 282.7 204.9 282.4 204.3C282.1 203.8 283.7 201.6 284.6 200.2C285.6 198.7 287.3 197.2 287.9 195.7C288.5 194.2 288.9 192.9 288.4 191.2C287.8 189.6 284.4 186.2 284.6 185.6Z" fill="#169EFF" />
<path d="M284.3 186.2C284.5 185.6 287.9 187.3 289.1 188.3C290.3 189.3 291.2 190.6 291.3 192.1C291.5 193.7 290.9 196.1 290 197.8C289.1 199.5 287.3 201.6 286.1 202.6C285 203.5 283.4 203.9 283.2 203.5C283 203 284.2 200.9 284.9 199.6C285.7 198.2 287.1 196.8 287.6 195.4C288.1 194.1 288.5 193.1 287.9 191.5C287.4 190 284.1 186.7 284.3 186.2Z" fill="#5FC4F5" />
<path d="M275.7 195C275.9 193.9 278.4 194 280.2 193.5C281.9 193 284.8 191.7 286.1 192C287.4 192.2 288.2 193.6 287.9 195C287.7 196.3 285.7 198.9 284.6 200.2C283.6 201.4 282.6 202.4 281.7 202.4C280.7 202.4 280 201.4 279 200.2C278 198.9 275.5 196.1 275.7 195Z" fill="#A5D7F3" />
<path d="M269 189.8C270.3 189 275 188 277.2 187.5C279.4 187 281.7 186.5 282.4 186.8C283.2 187 283 188.4 281.7 189C280.3 189.6 276.2 190 274.2 190.5C272.2 191 270.6 192.1 269.8 192C268.9 191.9 267.8 190.5 269 189.8Z" fill="#A5D7F3" />
<path d="M280.9 199C281 198.4 281.9 197.4 282.4 197.2C283 197 284 197.5 284.2 197.9C284.4 198.4 283.9 199.7 283.5 200.2C283 200.7 282.1 201.1 281.7 200.9C281.2 200.7 280.8 199.6 280.9 199Z" fill="#FFF060" />
<path d="M264.1 191.5C264.4 191.1 266.2 190.7 266.8 191C267.3 191.2 267.6 192.5 267.4 193C267.1 193.5 265.8 194.2 265.3 193.9C264.8 193.7 263.9 192 264.1 191.5Z" fill="#169EFF" />
<path d="M40 65.8 L44.7 66 L56.7 67.8 L65 69 L73.3 71 L77.5 70.2 L80 73.7 L82.5 76.7 L93.3 78 L97.5 80 L101.7 81.7 L102.5 84.7 L110 83.7 L118.3 85 L126 86.7 L128.9 90.4 L134.9 91.2 L136.4 94.1 L139.3 92.6 L149.8 93.4 L160.2 96.4 L161.7 98.6 L152.7 102.3 L157.2 103.8 L164.6 104.6 L172.1 107.5 L181 109.8 L182.5 107.5 L176.5 104.6 L169.1 102.3 L169.1 100.1 L176.5 100.1 L185.5 103.1 L192.9 107.5 L197.4 110.5 L201.1 113.5 L204 117.5 L211.4 120 L219.5 121.6 L224.8 121.6 L232.9 120.8 L236.9 120 L243.6 123.5 L247.6 127.5 L251.6 126.2 L250.3 122.7 L259.6 123.5 L270.4 124.3 L283.8 123.5 L294.5 124.3 L299.8 128.8 L310.5 132.9 L321.3 138.2 L329.3 142.2 L333.3 146.8 L340 144.9 L348 147.6 L359.5 151.1 L350 153 L340 155 L333.7 157.5 L332.5 163.7 L325 165.5 L320 167.5 L315 170 L307 168.9 L299.5 169.2 L290.6 169.7 L284.6 171.2 L281.7 174.1 L280.9 177.1 L269 177.6 L280.9 178.2 L284.6 180.8 L285.4 183.1 L278.7 184.6 L269.8 186.8 L268.3 189 L256.4 189.8 L263.8 190.5 L265.3 193.5 L259.3 194.5 L264.6 195.7 L274.2 198.7 L279.4 202.4 L277.2 203.2 L269.8 201.7 L262.3 199.9 L257.1 200.2 L257.9 202.4 L260.8 204.6 L256.4 207.6 L250.4 206.1 L247.4 203.2 L249.7 198.7 L248.2 197.9 L246 203.2 L243 204.6 L240 203.9 L235 202.5 L227.5 202.5 L225 198.7 L220 196.2 L210 195 L205 191.2 L200 190 L197.5 189 L190 190.2 L182.5 187.7 L171.2 182.7 L168.7 175.2 L162.5 170.2 L152.5 167 L135 166 L125 166.5 L107.5 169 L91.2 167.7 L87.5 162.7 L77.5 156.5 L80 151.5 L87.5 149 L90 145.2 L85 143.5 L77.5 149 L71.2 147.7 L68.7 145.2 L63.7 144.5 L62.5 149 L46.2 151.5 L50 157.7 L57.5 161.5 L67.5 166.5 L65 169 L55 175 L44.5 181.5 L40 183Z" fill="none" stroke="#fff" stroke-width="2.6" stroke-linejoin="round"/>
<path d="M40 65.8 L44.7 66 L56.7 67.8 L65 69 L73.3 71 L77.5 70.2 L80 73.7 L82.5 76.7 L93.3 78 L97.5 80 L101.7 81.7 L102.5 84.7 L110 83.7 L118.3 85 L126 86.7 L128.9 90.4 L134.9 91.2 L136.4 94.1 L139.3 92.6 L149.8 93.4 L160.2 96.4 L161.7 98.6 L152.7 102.3 L157.2 103.8 L164.6 104.6 L172.1 107.5 L181 109.8 L182.5 107.5 L176.5 104.6 L169.1 102.3 L169.1 100.1 L176.5 100.1 L185.5 103.1 L192.9 107.5 L197.4 110.5 L201.1 113.5 L204 117.5 L211.4 120 L219.5 121.6 L224.8 121.6 L232.9 120.8 L236.9 120 L243.6 123.5 L247.6 127.5 L251.6 126.2 L250.3 122.7 L259.6 123.5 L270.4 124.3 L283.8 123.5 L294.5 124.3 L299.8 128.8 L310.5 132.9 L321.3 138.2 L329.3 142.2 L333.3 146.8 L340 144.9 L348 147.6 L359.5 151.1 L350 153 L340 155 L333.7 157.5 L332.5 163.7 L325 165.5 L320 167.5 L315 170 L307 168.9 L299.5 169.2 L290.6 169.7 L284.6 171.2 L281.7 174.1 L280.9 177.1 L269 177.6 L280.9 178.2 L284.6 180.8 L285.4 183.1 L278.7 184.6 L269.8 186.8 L268.3 189 L256.4 189.8 L263.8 190.5 L265.3 193.5 L259.3 194.5 L264.6 195.7 L274.2 198.7 L279.4 202.4 L277.2 203.2 L269.8 201.7 L262.3 199.9 L257.1 200.2 L257.9 202.4 L260.8 204.6 L256.4 207.6 L250.4 206.1 L247.4 203.2 L249.7 198.7 L248.2 197.9 L246 203.2 L243 204.6 L240 203.9 L235 202.5 L227.5 202.5 L225 198.7 L220 196.2 L210 195 L205 191.2 L200 190 L197.5 189 L190 190.2 L182.5 187.7 L171.2 182.7 L168.7 175.2 L162.5 170.2 L152.5 167 L135 166 L125 166.5 L107.5 169 L91.2 167.7 L87.5 162.7 L77.5 156.5 L80 151.5 L87.5 149 L90 145.2 L85 143.5 L77.5 149 L71.2 147.7 L68.7 145.2 L63.7 144.5 L62.5 149 L46.2 151.5 L50 157.7 L57.5 161.5 L67.5 166.5 L65 169 L55 175 L44.5 181.5 L40 183Z" fill="#D2B48C" stroke="#000" stroke-width="0.7" stroke-linejoin="round"/>
<path d="M204.5 117.5 L206 124.8 L207.4 131.5 L214 135.5 L224.8 136.9 L226 142.2 L231.5 140.9 L232.9 136.9 L227.5 134.2 L224.8 130.2 L223.5 124.5 L219.5 123.4 L212 123.6 L208 121Z" fill="#fff" stroke="#000" stroke-width="0.6"/>
<path d="M306.2 161.2 L310 159.5 L317.5 163.7 L321.2 167.5 L317.5 169.5 L312.5 165 L307.5 163.7Z" fill="#fff" stroke="#000" stroke-width="0.6"/>
<path d="M203.7 190 L205 186 L208.2 185.5 L207.5 190 L205 192Z" fill="#fff" stroke="#000" stroke-width="0.6"/>
<path d="M569.3 31 L580 31 L575 36 L566 42 L562 50 L556.8 52.5 L556.8 41.1 L559.2 40.5 L559.2 36.9 L562.7 36.3 L562.7 34.5 L566.3 34.5Z" fill="#fff" />
<path d="M567.4 124.9 L571.2 125.6 L571.2 128.6 L574.9 128.6 L574.9 131.6 L579.3 131.6 L579.3 134.6 L583.8 134.6 L583.8 136.8 L587.5 136.8 L587.5 139 L591.2 139 L591.2 142 L593.5 142 L593.5 145.7 L595.7 145.7 L595.7 149.4 L600.2 149.4 L600.2 150.7 L592.7 151.1 L582.3 150.7 L560 150.2 L560 156 L600 158 L630 150 L656 145 L656 118 L580 116 L568 120Z" fill="#fff" />
<path d="M529 148.5 L536 148.5 L544 151 L552 152.2 L552 149.8 L546 149 L541 147.5 L541 135.5 L534 135.5 L530 140 L536 144Z" fill="#fff" />
<path d="M603 144.6 L607 144.2 L608 145.6 L604 146.2Z" fill="#169EFF"/>
<path d="M610 144 L615 143.8 L616 145.4 L611 145.8Z" fill="#00BFFF"/>
<path d="M406.5 163 L410 160 L416.7 158.7 L425 156.5 L433.3 154.5 L440 151.5 L450 148 L460 145.5 L466.7 145.3 L473.3 144.5 L478.3 143 L490 139 L500 136.8 L511.7 134.2 L524 133.5 L534 134.5 L534 140 L500 145 L470 155 L440 160 L415 165Z" fill="#fff" />
<path d="M409 166.5 L416 169.5 L426 173.5 L436 176 L440 176 L440 182 L445 182 L445 186 L450 186 L450 190 L454 190 L454 195 L459 195 L459 199.5 L476 200.5 L501 202 L509 203.5 L516 201.5 L544 198.5 L560 199.5 L566 203 L570.2 208.5 L575 204 L583 198.8 L592 195.5 L540 190 L480 190 L450 178 L420 168Z" fill="#fff" />
<path d="M511 235 L518.5 233.8 L539.8 230 L546 236.2 L552.2 241.2 L561 240 L568.5 235 L568.5 225.5 L582.2 221.2 L591 229.5 L603.5 232 L586 236.2 L571 241.2 L558.5 245 L543.5 247.5 L531 250 L527.2 256.2 L516 257.5 L506 260 L496 263.8 L496 255 L501 253.8 L501 247.5 L507.2 247.5 L507.2 240 L511 240Z" fill="#fff" />
<path d="M573.5 206.2 L577.2 203 L586 198 L601 193 L616 190 L626 189.2 L633.5 192.5 L632.2 200 L621 205 L611 205.5 L606 202.5 L616 198 L619.8 194.5 L611 195.5 L596 201.2 L583.5 208.8Z" fill="#fff" />
<path d="M608.5 210 L617.2 210 L617.2 216.2 L608.5 216.2Z" fill="#fff" />
<path d="M598 224.5 L603 224.5 L603 227.5 L598 227.5Z" fill="#fff" />
<path d="M507.5 237.5 L512.5 233.8 L540 233.8 L550 240 L565 240 L568.8 237.5 L568.8 226.2 L580 225 L590 230 L615 230 L615 250 L575 243 L562.5 248 L550 249.2 L540 251.8 L530 254.2 L527.5 259.2 L515 258 L505 263 L498.8 261.2 L498.8 252.5 L502.5 252.5 L502.5 246.2 L507.5 246.2Z" fill="#fff" />
<path d="M498 259.5 L490 263.2 L482.5 267 L477.5 272 L469.5 272 L469.5 275 L467.5 275 L467.5 280.5 L463.2 288.2 L465 290 L472 293 L472 296.2 L475 296.2 L475 298.8 L480 298.8 L480 302.5 L486.2 302.5 L490 306 L500 310 L515 306 L515 275Z" fill="#fff" />
<path d="M488.5 315 L493.5 313 L498.5 315 L501 319.5 L508.5 325 L512.2 326.2 L518.5 320 L523.5 315 L536 312.5 L544 311.2 L544 316.2 L526 317.5 L516 327.5 L511 327.5 L516 332.5 L518.5 336.2 L511 336.2 L503.5 330 L496 326.2 L493.5 322.5 L489.8 320Z" fill="#fff" />
<path d="M486 300 L488.7 312.5 L490 315 L491.2 320 L493.7 322.5 L498.7 326.2 L505 328.7 L512.5 332.5 L519 338 L545 338 L545 300Z" fill="#fff" />
<path d="M573.8 338 L576.2 326.2 L583.8 320.5 L606.2 310.8 L607 313 L585 326.2 L586.2 338Z" fill="#fff" />
<path d="M578 30 L577 32.4 L571.7 34.3 L566.9 36.9 L562.7 39.9 L561.9 42.9 L561.2 45.8 L558.6 50 L556.8 51.8 L553.8 53 L550.2 54.2 L545.5 57.1 L539.5 59.5 L534.8 61.3 L533.7 62 L520 63 L510 64.2 L495 65 L480 65.5 L470 65 L463.7 65.5 L462.5 69.2 L463 76.7 L465 78 L455 80 L444.7 81.7 L451 83.5 L461 85.5 L468.5 88 L476 90.5 L488.5 93.5 L501 96.7 L513.5 100.5 L526 104.2 L533 108.5 L539 113.7 L541.5 120 L556.5 121.2 L567.7 123.7 L571.5 121.2 L577.7 121.2 L579 118.7 L582.7 119.5 L580.2 122.5 L604 122.5 L607.7 125 L599 127.5 L596.5 130 L604 133.7 L614 136.2 L614 133.7 L617.7 135 L629 135 L644 136.2 L651.5 133.7 L656 135 L656 137.5 L646.5 141.2 L634 142.5 L621.5 140 L614 138.7 L609.1 139.8 L603.2 139 L600.9 139 L597.2 137.5 L593.5 134.6 L591 133.1 L591.5 134.8 L593.5 137 L595.4 139.8 L594.5 142 L595.4 143.5 L597.2 142.2 L599.4 142 L604.6 140.7 L612.1 140.7 L621.5 143.7 L626.5 146.2 L621.5 148.7 L614 146.2 L606.5 147.5 L601.5 151.2 L597.7 155 L589 152.5 L574 151.2 L559 151.2 L544 150 L536.5 147.5 L529 147.5 L536.5 145 L537.7 138.7 L534 136.2 L526 136 L511.7 136.8 L500 139.5 L490 142 L480 144.5 L476.7 146 L483.3 149.4 L478.3 150.2 L468.3 151 L466.7 148.5 L458.3 149.5 L450 151.2 L443.3 152.8 L440 155.3 L433.3 157 L426.7 157.8 L425 160.3 L416.7 162 L411.7 162.8 L406.7 163.5 L407.5 165.5 L416.7 169.4 L425 171.9 L433.3 173.2 L443.3 173.9 L445 173.2 L450 174.3 L457 174.8 L465 175.2 L456 177.7 L448.5 180.2 L447.2 182.7 L453.5 187.7 L457.2 194 L463.5 196.5 L476 198.5 L488.5 199.5 L501 200.2 L508.5 201.5 L516 199.5 L526 198.5 L536.5 197.7 L551.5 196.5 L561.5 198.5 L566.5 201.5 L570.2 206.5 L574 202.7 L581.5 197.7 L591.5 194 L604 192 L614 190.2 L624 187.7 L630.2 190.2 L631.5 195.2 L624 198.5 L614 200.2 L611.5 204 L621.5 206.5 L629 211.5 L631.5 219 L626.5 225.2 L616.5 229 L604 230.2 L591.5 231.5 L586.5 232.7 L579 234 L574 240 L564 242.5 L554 243.7 L541.5 246.2 L531.5 248.7 L529 251.5 L519 252.5 L516 256.2 L503.5 258.7 L493.5 262.5 L483.5 267.5 L478.5 272.5 L474.7 277.5 L471 281.2 L466 283.7 L464.7 286.2 L476 287 L492.2 286.2 L493.5 288 L481 289.5 L473.5 291.2 L472.2 293.7 L478.5 296.2 L486 295 L488.7 297.5 L491.2 302.5 L493.7 306.2 L498.7 307.5 L503.7 304.5 L508.7 307.5 L513.7 305.5 L512.5 308.7 L501.2 311.2 L515 312 L525 314.5 L536.2 310.7 L540 312 L538.7 314.5 L530 316.2 L522.5 320.5 L518 325 L514.2 328.7 L515 333.7 L519.2 338 L577 338 L580 332 L574 326.2 L585 320 L596 315.5 L606.5 311.2 L595 318 L584 325 L581 328 L585.2 338 L656 338 L656 30Z" fill="none" stroke="#fff" stroke-width="2.6" stroke-linejoin="round"/>
<path d="M578 30 L577 32.4 L571.7 34.3 L566.9 36.9 L562.7 39.9 L561.9 42.9 L561.2 45.8 L558.6 50 L556.8 51.8 L553.8 53 L550.2 54.2 L545.5 57.1 L539.5 59.5 L534.8 61.3 L533.7 62 L520 63 L510 64.2 L495 65 L480 65.5 L470 65 L463.7 65.5 L462.5 69.2 L463 76.7 L465 78 L455 80 L444.7 81.7 L451 83.5 L461 85.5 L468.5 88 L476 90.5 L488.5 93.5 L501 96.7 L513.5 100.5 L526 104.2 L533 108.5 L539 113.7 L541.5 120 L556.5 121.2 L567.7 123.7 L571.5 121.2 L577.7 121.2 L579 118.7 L582.7 119.5 L580.2 122.5 L604 122.5 L607.7 125 L599 127.5 L596.5 130 L604 133.7 L614 136.2 L614 133.7 L617.7 135 L629 135 L644 136.2 L651.5 133.7 L656 135 L656 137.5 L646.5 141.2 L634 142.5 L621.5 140 L614 138.7 L609.1 139.8 L603.2 139 L600.9 139 L597.2 137.5 L593.5 134.6 L591 133.1 L591.5 134.8 L593.5 137 L595.4 139.8 L594.5 142 L595.4 143.5 L597.2 142.2 L599.4 142 L604.6 140.7 L612.1 140.7 L621.5 143.7 L626.5 146.2 L621.5 148.7 L614 146.2 L606.5 147.5 L601.5 151.2 L597.7 155 L589 152.5 L574 151.2 L559 151.2 L544 150 L536.5 147.5 L529 147.5 L536.5 145 L537.7 138.7 L534 136.2 L526 136 L511.7 136.8 L500 139.5 L490 142 L480 144.5 L476.7 146 L483.3 149.4 L478.3 150.2 L468.3 151 L466.7 148.5 L458.3 149.5 L450 151.2 L443.3 152.8 L440 155.3 L433.3 157 L426.7 157.8 L425 160.3 L416.7 162 L411.7 162.8 L406.7 163.5 L407.5 165.5 L416.7 169.4 L425 171.9 L433.3 173.2 L443.3 173.9 L445 173.2 L450 174.3 L457 174.8 L465 175.2 L456 177.7 L448.5 180.2 L447.2 182.7 L453.5 187.7 L457.2 194 L463.5 196.5 L476 198.5 L488.5 199.5 L501 200.2 L508.5 201.5 L516 199.5 L526 198.5 L536.5 197.7 L551.5 196.5 L561.5 198.5 L566.5 201.5 L570.2 206.5 L574 202.7 L581.5 197.7 L591.5 194 L604 192 L614 190.2 L624 187.7 L630.2 190.2 L631.5 195.2 L624 198.5 L614 200.2 L611.5 204 L621.5 206.5 L629 211.5 L631.5 219 L626.5 225.2 L616.5 229 L604 230.2 L591.5 231.5 L586.5 232.7 L579 234 L574 240 L564 242.5 L554 243.7 L541.5 246.2 L531.5 248.7 L529 251.5 L519 252.5 L516 256.2 L503.5 258.7 L493.5 262.5 L483.5 267.5 L478.5 272.5 L474.7 277.5 L471 281.2 L466 283.7 L464.7 286.2 L476 287 L492.2 286.2 L493.5 288 L481 289.5 L473.5 291.2 L472.2 293.7 L478.5 296.2 L486 295 L488.7 297.5 L491.2 302.5 L493.7 306.2 L498.7 307.5 L503.7 304.5 L508.7 307.5 L513.7 305.5 L512.5 308.7 L501.2 311.2 L515 312 L525 314.5 L536.2 310.7 L540 312 L538.7 314.5 L530 316.2 L522.5 320.5 L518 325 L514.2 328.7 L515 333.7 L519.2 338 L577 338 L580 332 L574 326.2 L585 320 L596 315.5 L606.5 311.2 L595 318 L584 325 L581 328 L585.2 338 L656 338 L656 30Z" fill="#D2B48C" stroke="#000" stroke-width="0.7" stroke-linejoin="round"/>
<path d="M498 313.2C498.6 312.7 503 312.7 505 312.7C507 312.7 513 312.9 515 313.2C517 313.5 521.5 314.3 522 315C522.5 315.7 520.4 318.4 519.5 319.5C518.6 320.6 515.8 323.7 514.5 324.5C513.2 325.3 509.3 326.8 508 326.5C506.7 326.2 504 323.1 503 322C502 320.9 500.1 318 499.5 317C498.9 316 497.4 313.7 498 313.2Z" fill="none" stroke="#fff" stroke-width="2.6" stroke-linejoin="round"/>
<path d="M498 313.2C498.6 312.7 503 312.7 505 312.7C507 312.7 513 312.9 515 313.2C517 313.5 521.5 314.3 522 315C522.5 315.7 520.4 318.4 519.5 319.5C518.6 320.6 515.8 323.7 514.5 324.5C513.2 325.3 509.3 326.8 508 326.5C506.7 326.2 504 323.1 503 322C502 320.9 500.1 318 499.5 317C498.9 316 497.4 313.7 498 313.2Z" fill="#D2B48C" stroke="#000" stroke-width="0.7" stroke-linejoin="round"/>
<path d="M464.7 175.2 L450 176.8 L446 177.5" fill="none" stroke="#000" stroke-width="0.7"/>
<path d="M524 135 L541.5 135" fill="none" stroke="#000" stroke-width="0.7"/>
<path d="M583 32.3 L594.3 33.1 L602.6 35.1" fill="none" stroke="#000" stroke-width="0.7"/>
<path d="M564.5 39 L574 39.1 L582.4 39.6" fill="none" stroke="#000" stroke-width="0.7"/>
<path d="M563.5 42.7 L569 43.8 L574 44.7" fill="none" stroke="#000" stroke-width="0.7"/>
<path d="M444 174.5 L456 175 L462 175.5 L456 177.5 L449 180 L447 182.5 L444.5 180 L440 180 L440 176Z" fill="#fff"/>
<path d="M447 175.5 L455 175.8 L455 177.5 L450 179.5 L447.5 179Z" fill="#169EFF"/>
<path d="M289.8 227.7 L294 221 L300.7 222.7 L294 233.5 L305.7 236.7 L319 237.2 L319.8 235.5 L330.7 237.5 L339 239.7 L347.3 241.7 L349 244.7 L354 245.5 L354.8 247.7 L364 247.7 L364.8 245.5 L370.7 243 L374 241 L386 241 L388 237.7 L386 235.7 L367.3 235.2 L334 223.5Z" fill="#fff" />
<path d="M290.7 228.5 L294 221.8 L300.7 223.5 L310.7 225.7 L320.7 226.8 L325.7 225.2 L334 224.3 L342.3 226 L348.2 230.2 L357.3 233.5 L367.3 236 L377.3 235.7 L385.7 236.8 L386 239.7 L380.7 240.7 L374 240.2 L367.3 241.8 L362.3 244.7 L355.7 243.5 L347.3 240.7 L339 239 L330.7 236.8 L322.3 234.7 L314 235.2 L305.7 236 L297.3 233.5 L291.5 231Z" fill="none" stroke="#fff" stroke-width="2.6" stroke-linejoin="round"/>
<path d="M290.7 228.5 L294 221.8 L300.7 223.5 L310.7 225.7 L320.7 226.8 L325.7 225.2 L334 224.3 L342.3 226 L348.2 230.2 L357.3 233.5 L367.3 236 L377.3 235.7 L385.7 236.8 L386 239.7 L380.7 240.7 L374 240.2 L367.3 241.8 L362.3 244.7 L355.7 243.5 L347.3 240.7 L339 239 L330.7 236.8 L322.3 234.7 L314 235.2 L305.7 236 L297.3 233.5 L291.5 231Z" fill="#D2B48C" stroke="#000" stroke-width="0.7" stroke-linejoin="round"/>
<path d="M423 330 L424.5 328 L433.5 326.2 L446 325 L456 322.5 L463.5 323.5 L479 325 L484 325 L484 338 L478 338 L478 327 L430 331Z" fill="#fff" />
<path d="M424.7 329.5 L433.5 327.5 L446 326.2 L456 323.7 L463.5 325 L478.5 326.2 L479.7 338 L429.7 338 L426 333.7Z" fill="none" stroke="#fff" stroke-width="2.6" stroke-linejoin="round"/>
<path d="M424.7 329.5 L433.5 327.5 L446 326.2 L456 323.7 L463.5 325 L478.5 326.2 L479.7 338 L429.7 338 L426 333.7Z" fill="#D2B48C" stroke="#000" stroke-width="0.7" stroke-linejoin="round"/>
<path d="M444 326.4 L456 325.8 L470 326.8 L478.5 327.5" fill="none" stroke="#000" stroke-width="0.7"/>
<path d="M251.1 315.8C251.5 315.4 252.7 314.2 254.1 313.9C255.5 313.7 257.5 313.8 259.3 314.3C261.1 314.8 263 315.9 264.9 316.7C266.8 317.6 268.7 318.6 270.6 319.6C272.5 320.5 274.3 321.4 276.2 322.4C278.1 323.3 280.2 324.4 281.9 325.2C283.5 326.1 285.7 327 286.3 327.5C286.9 328 291.4 330.1 285.6 328.2C279.9 326.4 257.5 318.5 251.8 316.5C246 314.4 250.7 316.2 251.1 315.8Z" fill="#5FC4F5" />
<path d="M251.5 315.8C251.9 315.4 252.8 314.5 254.1 314.3C255.4 314.1 257.3 314.2 259.1 314.7C260.9 315.1 262.8 316.2 264.6 317.1C266.5 318 268.4 319 270.3 319.9C272.2 320.9 274.1 321.8 275.9 322.8C277.8 323.7 279.9 324.8 281.6 325.6C283.2 326.4 285.2 327.2 285.9 327.7C286.6 328.1 291.3 330.1 285.6 328.2C279.9 326.4 257.5 318.5 251.8 316.5C246.1 314.4 251.1 316.2 251.5 315.8Z" fill="#A5D7F3" />
<path d="M251.8 315.5 L254.1 314.8 L258.8 315.2 L264.5 317.6 L270.1 320.4 L275.7 323.2 L281.4 326.1 L285.6 327.8 L284.2 329.2 L279.5 329.2 L273.9 328.2 L268.2 328.2 L263.5 327.3 L261.6 325.4 L257.9 323 L255.1 320.2 L252.2 318.3Z" fill="#fff" />
<path d="M261.6 330.1 L266.3 330.1 L266.3 332 L261.6 332Z" fill="#fff" />
<path d="M258.3 321.2C258.3 320.9 259.4 320.4 259.8 320.5C260.1 320.6 260.6 321.7 261.2 322.1C261.7 322.5 263.6 323.7 264.5 324C265.3 324.3 267.4 324.5 268.2 324.6C269.1 324.8 271.5 325.1 271.8 325.2C272.1 325.4 271.6 325.8 271 325.9C270.5 325.9 268.2 326 267.3 325.9C266.4 325.8 264.3 325.3 263.5 324.9C262.7 324.6 260.8 323.5 260.2 323C259.6 322.6 258.4 321.5 258.3 321.2Z" fill="#D2B48C" stroke="#000" stroke-width="0.5"/>
<path d="M376.5 159 L386 159 L386 161.5 L376.5 161.5Z" fill="#fff" />
<path d="M404.7 184.7 L413.5 184.7 L413.5 187 L404.7 187Z" fill="#fff" />
</g>
<rect x="44.5" y="32" width="610" height="305" fill="none" stroke="#000" stroke-width="1.3"/>
<path d="M44.5 32v-10.6M44.5 337v10.6M197 32v-10.6M197 337v10.6M349.5 32v-10.6M349.5 337v10.6M502 32v-10.6M502 337v10.6M654.5 32v-10.6M654.5 337v10.6M44.5 32h-10.6M654.5 32h10.6M44.5 184.5h-10.6M654.5 184.5h10.6M44.5 337h-10.6M654.5 337h10.6" stroke="#000" stroke-width="1" fill="none"/>
<path d="M75 32v-5.3M75 337v5.3M105.5 32v-5.3M105.5 337v5.3M136 32v-5.3M136 337v5.3M166.5 32v-5.3M166.5 337v5.3M227.5 32v-5.3M227.5 337v5.3M258 32v-5.3M258 337v5.3M288.5 32v-5.3M288.5 337v5.3M319 32v-5.3M319 337v5.3M380 32v-5.3M380 337v5.3M410.5 32v-5.3M410.5 337v5.3M441 32v-5.3M441 337v5.3M471.5 32v-5.3M471.5 337v5.3M532.5 32v-5.3M532.5 337v5.3M563 32v-5.3M563 337v5.3M593.5 32v-5.3M593.5 337v5.3M624 32v-5.3M624 337v5.3M44.5 62.5h-5.3M654.5 62.5h5.3M44.5 93h-5.3M654.5 93h5.3M44.5 123.5h-5.3M654.5 123.5h5.3M44.5 154h-5.3M654.5 154h5.3M44.5 215h-5.3M654.5 215h5.3M44.5 245.5h-5.3M654.5 245.5h5.3M44.5 276h-5.3M654.5 276h5.3M44.5 306.5h-5.3M654.5 306.5h5.3" stroke="#000" stroke-width="0.6" fill="none"/>
<g font-size="17.4px"><text x="43.6" y="13.9">surface_snow_thickness</text><text x="655.2" y="16.7" text-anchor="end">m</text></g>
<g font-size="14.3px">
<text x="44.5" y="367.6" text-anchor="middle">180</text>
<text x="197" y="367.6" text-anchor="middle">175W</text>
<text x="349.5" y="367.6" text-anchor="middle">170W</text>
<text x="502" y="367.6" text-anchor="middle">165W</text>
<text x="654.5" y="367.6" text-anchor="middle">160W</text>
<text x="24.4" y="37.1" text-anchor="end">70N</text>
<text x="24.4" y="189.6" text-anchor="end">65N</text>
<text x="24.4" y="342.1" text-anchor="end">60N</text>
<text x="148.6" y="423.6" text-anchor="middle">0</text>
<text x="195.9" y="423.6" text-anchor="middle">0.08</text>
<text x="243.2" y="423.6" text-anchor="middle">0.16</text>
<text x="290.4" y="423.6" text-anchor="middle">0.24</text>
<text x="337.7" y="423.6" text-anchor="middle">0.32</text>
<text x="384.9" y="423.6" text-anchor="middle">0.4</text>
<text x="432.2" y="423.6" text-anchor="middle">0.48</text>
<text x="479.5" y="423.6" text-anchor="middle">0.56</text>
<text x="526.7" y="423.6" text-anchor="middle">0.64</text>
</g>
<rect x="125" y="378.3" width="23.6" height="27" fill="#7D1FEF" stroke="#000" stroke-width="0.6"/>
<rect x="148.6" y="378.3" width="23.6" height="27" fill="#2D0DF5" stroke="#000" stroke-width="0.6"/>
<rect x="172.3" y="378.3" width="23.6" height="27" fill="#1A2DF2" stroke="#000" stroke-width="0.6"/>
<rect x="195.9" y="378.3" width="23.6" height="27" fill="#4163E1" stroke="#000" stroke-width="0.6"/>
<rect x="219.5" y="378.3" width="23.6" height="27" fill="#2B7FF2" stroke="#000" stroke-width="0.6"/>
<rect x="243.2" y="378.3" width="23.6" height="27" fill="#169EFF" stroke="#000" stroke-width="0.6"/>
<rect x="266.8" y="378.3" width="23.6" height="27" fill="#00BFFF" stroke="#000" stroke-width="0.6"/>
<rect x="290.4" y="378.3" width="23.6" height="27" fill="#5FC4F5" stroke="#000" stroke-width="0.6"/>
<rect x="314.1" y="378.3" width="23.6" height="27" fill="#A5D7F3" stroke="#000" stroke-width="0.6"/>
<rect x="337.7" y="378.3" width="23.6" height="27" fill="#FFFFCC" stroke="#000" stroke-width="0.6"/>
<rect x="361.3" y="378.3" width="23.6" height="27" fill="#FFF060" stroke="#000" stroke-width="0.6"/>
<rect x="384.9" y="378.3" width="23.6" height="27" fill="#FFD020" stroke="#000" stroke-width="0.6"/>
<rect x="408.6" y="378.3" width="23.6" height="27" fill="#FFA800" stroke="#000" stroke-width="0.6"/>
<rect x="432.2" y="378.3" width="23.6" height="27" fill="#FF8000" stroke="#000" stroke-width="0.6"/>
<rect x="455.8" y="378.3" width="23.6" height="27" fill="#FF4800" stroke="#000" stroke-width="0.6"/>
<rect x="479.5" y="378.3" width="23.6" height="27" fill="#FF0000" stroke="#000" stroke-width="0.6"/>
<rect x="503.1" y="378.3" width="23.6" height="27" fill="#D80000" stroke="#000" stroke-width="0.6"/>
<rect x="526.7" y="378.3" width="23.6" height="27" fill="#D83030" stroke="#000" stroke-width="0.6"/>
<rect x="550.4" y="378.3" width="23.6" height="27" fill="#FFB0B0" stroke="#000" stroke-width="0.6"/>
</svg>
</body></html>
